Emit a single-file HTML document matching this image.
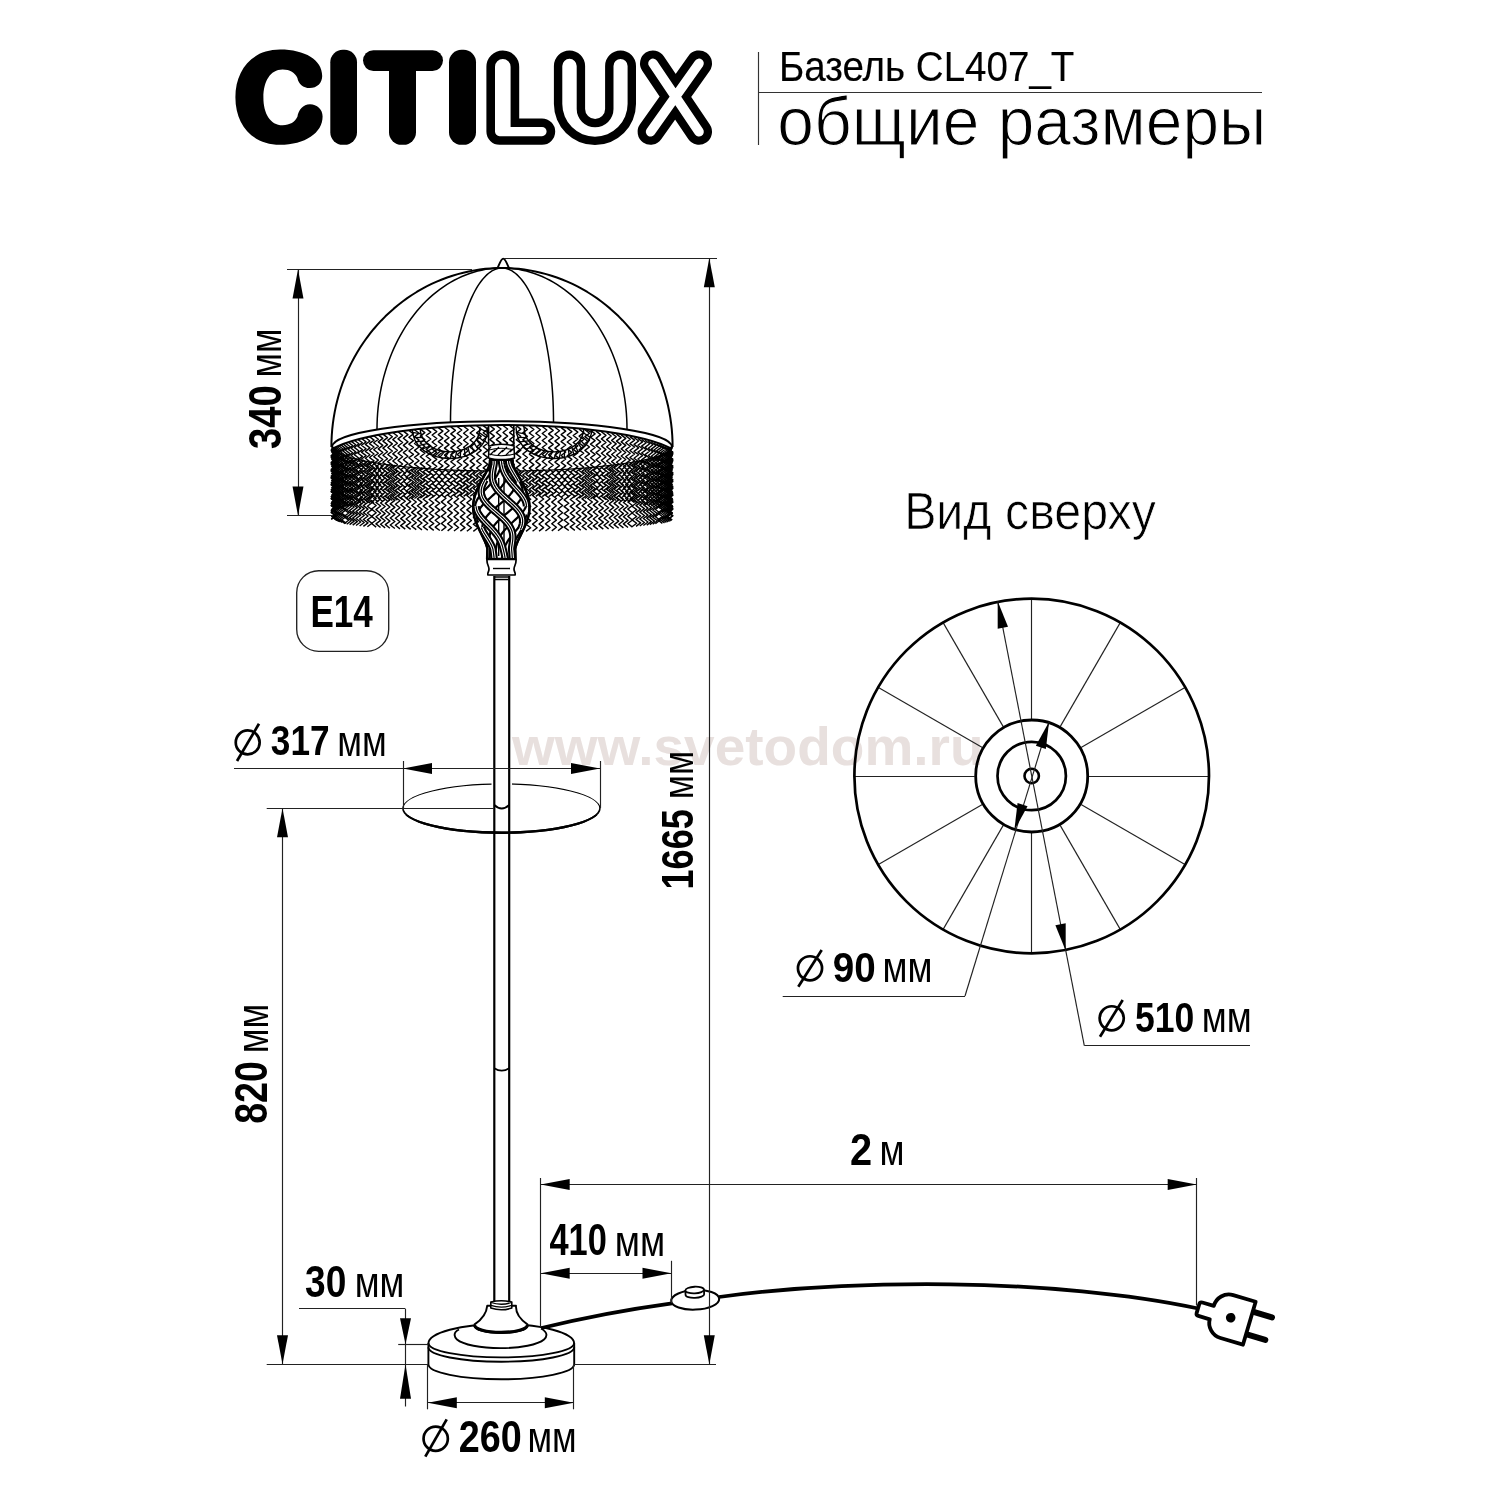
<!DOCTYPE html>
<html><head><meta charset="utf-8"><title>Citilux CL407_T</title>
<style>
html,body{margin:0;padding:0;background:#fff;}
body{width:1500px;height:1500px;overflow:hidden;}
svg{display:block;will-change:transform;}
svg text{font-family:"Liberation Sans",sans-serif;}
</style></head><body>
<svg width="1500" height="1500" viewBox="0 0 1500 1500">
<rect width="1500" height="1500" fill="#fff"/>
<text transform="translate(511.97,765.06) scale(0.5500,0.5388)" font-size="100" font-weight="bold" fill="#e8e0de" >www.svetodom.ru</text>
<g fill="#000" stroke="none">
<path d="M322.2,76 C322.2,60 305,49.6 280,49.6 C252,49.6 235.4,70 235.4,97.2 C235.4,124.5 252,144.8 280,144.8 C305,144.8 322.6,133 322.6,116.5 C322.6,109.5 317,104.3 310,104.3 C303,104.3 298.5,110 297.4,116.8 C295,122 290,125.2 282.6,125.2 C270,125.2 263.4,113 263.4,97.4 C263.4,82 270,69.6 282.6,69.6 C290,69.6 295,73 297.4,78 C298.5,84 303,88.1 309.8,88.1 C317,88.1 322.2,83 322.2,76 Z"/>
<rect x="330.3" y="49.8" width="26.7" height="95" rx="12.5"/>
<rect x="363" y="50.2" width="80" height="20.8" rx="10.4"/>
<rect x="389" y="52" width="27" height="92.8" rx="12.5"/>
<rect x="449" y="49.8" width="27" height="95" rx="12.5"/>
<path d="M486.4,66.8 A16.4,16.4 0 0 1 519.2,66.8 V118.4 H542 A13.2,13.2 0 0 1 542,144.8 H499.6 A13.2,13.2 0 0 1 486.4,131.6 Z"/>
<path fill="#fff" d="M495,66.8 A7.8,7.8 0 0 1 510.6,66.8 V127 H542 A4.6,4.6 0 0 1 542,136.2 H499.6 A4.6,4.6 0 0 1 495,131.6 Z"/>
<path d="M553.9,66 A15.6,15.6 0 0 1 585.1,66 V109 A10,10 0 0 0 605.1,109 V66 A15.45,15.45 0 0 1 636,66 V104 A41.05,41.05 0 0 1 553.9,104 Z"/>
<path fill="#fff" d="M562.3,66 A7.2,7.2 0 0 1 576.7,66 V109 A18.4,18.4 0 0 0 613.5,109 V66 A7.05,7.05 0 0 1 627.6,66 V104 A32.65,32.65 0 0 1 562.3,104 Z"/>
</g>
<g fill="none" stroke-linecap="round">
<path d="M653,63.4 L699,131.8 M699,63.4 L650.6,131.8" stroke="#000" stroke-width="26"/>
<path d="M653,63.4 L699,131.8 M699,63.4 L650.6,131.8" stroke="#fff" stroke-width="9.6"/>
</g>
<line x1="758.50" y1="52.00" x2="758.50" y2="145.00" stroke="#333" stroke-width="1.15" />
<line x1="758.60" y1="92.50" x2="1262.00" y2="92.50" stroke="#333" stroke-width="1.15" />
<text transform="translate(778.92,81.00) scale(0.3855,0.4203)" font-size="100" font-weight="normal" fill="#000" stroke="#000" stroke-width="0.35">Базель CL407_T</text>
<text transform="translate(777.36,145.00) scale(0.6589,0.6792)" font-size="100" font-weight="normal" fill="#000" stroke="#fff" stroke-width="1.7">общие размеры</text>
<text transform="translate(904.13,529.00) scale(0.4834,0.5130)" font-size="100" font-weight="normal" fill="#000" stroke="#fff" stroke-width="1.4">Вид сверху</text>
<path d="M496.6,270 C498.8,266.5 500.6,258.6 503.2,258.6 C505.8,258.6 507.8,266.5 510,270 Z" fill="#fff" stroke="#000" stroke-width="1.9" stroke-linejoin="round"/>
<polygon points="331.40,447.00 331.49,441.14 331.77,435.29 332.22,429.45 332.86,423.64 333.68,417.84 334.68,412.08 335.86,406.35 337.21,400.67 338.75,395.04 340.45,389.46 342.33,383.95 344.39,378.50 346.61,373.13 348.99,367.83 351.54,362.62 354.26,357.50 357.13,352.48 360.15,347.55 363.33,342.74 366.65,338.03 370.12,333.44 373.74,328.98 377.49,324.64 381.37,320.43 385.38,316.35 389.52,312.42 393.77,308.63 398.15,304.99 402.63,301.50 407.22,298.17 411.91,294.99 416.70,291.98 421.58,289.14 426.55,286.46 431.59,283.96 436.71,281.63 441.91,279.47 447.16,277.50 452.48,275.71 457.85,274.10 463.26,272.68 468.72,271.44 474.21,270.39 479.73,269.53 485.28,268.86 490.84,268.38 496.42,268.10 502.00,268.00 502.00,268.00 507.58,268.10 513.16,268.38 518.72,268.86 524.27,269.53 529.79,270.39 535.28,271.44 540.74,272.68 546.15,274.10 551.52,275.71 556.84,277.50 562.09,279.47 567.29,281.63 572.41,283.96 577.45,286.46 582.42,289.14 587.30,291.98 592.09,294.99 596.78,298.17 601.37,301.50 605.85,304.99 610.23,308.63 614.48,312.42 618.62,316.35 622.63,320.43 626.51,324.64 630.26,328.98 633.88,333.44 637.35,338.03 640.67,342.74 643.85,347.55 646.87,352.48 649.74,357.50 652.46,362.62 655.01,367.83 657.39,373.13 659.61,378.50 661.67,383.95 663.55,389.46 665.25,395.04 666.79,400.67 668.14,406.35 669.32,412.08 670.32,417.84 671.14,423.64 671.78,429.45 672.23,435.29 672.51,441.14 672.60,447.00" fill="#fff" stroke="none"/>
<polyline points="331.40,447.00 331.49,441.14 331.77,435.29 332.22,429.45 332.86,423.64 333.68,417.84 334.68,412.08 335.86,406.35 337.21,400.67 338.75,395.04 340.45,389.46 342.33,383.95 344.39,378.50 346.61,373.13 348.99,367.83 351.54,362.62 354.26,357.50 357.13,352.48 360.15,347.55 363.33,342.74 366.65,338.03 370.12,333.44 373.74,328.98 377.49,324.64 381.37,320.43 385.38,316.35 389.52,312.42 393.77,308.63 398.15,304.99 402.63,301.50 407.22,298.17 411.91,294.99 416.70,291.98 421.58,289.14 426.55,286.46 431.59,283.96 436.71,281.63 441.91,279.47 447.16,277.50 452.48,275.71 457.85,274.10 463.26,272.68 468.72,271.44 474.21,270.39 479.73,269.53 485.28,268.86 490.84,268.38 496.42,268.10 502.00,268.00 502.00,268.00 507.58,268.10 513.16,268.38 518.72,268.86 524.27,269.53 529.79,270.39 535.28,271.44 540.74,272.68 546.15,274.10 551.52,275.71 556.84,277.50 562.09,279.47 567.29,281.63 572.41,283.96 577.45,286.46 582.42,289.14 587.30,291.98 592.09,294.99 596.78,298.17 601.37,301.50 605.85,304.99 610.23,308.63 614.48,312.42 618.62,316.35 622.63,320.43 626.51,324.64 630.26,328.98 633.88,333.44 637.35,338.03 640.67,342.74 643.85,347.55 646.87,352.48 649.74,357.50 652.46,362.62 655.01,367.83 657.39,373.13 659.61,378.50 661.67,383.95 663.55,389.46 665.25,395.04 666.79,400.67 668.14,406.35 669.32,412.08 670.32,417.84 671.14,423.64 671.78,429.45 672.23,435.29 672.51,441.14 672.60,447.00" fill="none" stroke="#000" stroke-width="2" stroke-linejoin="round"/>
<polyline points="450.50,422.20 450.53,417.15 450.61,412.11 450.75,407.08 450.94,402.07 451.19,397.08 451.49,392.12 451.85,387.18 452.25,382.29 452.72,377.44 453.23,372.63 453.80,367.88 454.42,363.19 455.09,358.56 455.81,354.00 456.58,349.51 457.40,345.10 458.27,340.77 459.18,336.53 460.14,332.38 461.14,328.33 462.19,324.38 463.28,320.53 464.41,316.79 465.58,313.16 466.79,309.65 468.04,306.27 469.33,303.00 470.65,299.86 472.00,296.86 473.39,293.99 474.80,291.25 476.25,288.66 477.72,286.21 479.22,283.90 480.75,281.74 482.29,279.74 483.86,277.88 485.45,276.18 487.05,274.64 488.67,273.25 490.31,272.03 491.95,270.96 493.61,270.06 495.28,269.32 496.95,268.74 498.63,268.33 500.31,268.08 502.00,268.00" fill="none" stroke="#000" stroke-width="1.5"/>
<polyline points="553.50,422.20 553.47,417.15 553.39,412.11 553.25,407.08 553.06,402.07 552.81,397.08 552.51,392.12 552.15,387.18 551.75,382.29 551.28,377.44 550.77,372.63 550.20,367.88 549.58,363.19 548.91,358.56 548.19,354.00 547.42,349.51 546.60,345.10 545.73,340.77 544.82,336.53 543.86,332.38 542.86,328.33 541.81,324.38 540.72,320.53 539.59,316.79 538.42,313.16 537.21,309.65 535.96,306.27 534.67,303.00 533.35,299.86 532.00,296.86 530.61,293.99 529.20,291.25 527.75,288.66 526.28,286.21 524.78,283.90 523.25,281.74 521.71,279.74 520.14,277.88 518.55,276.18 516.95,274.64 515.33,273.25 513.69,272.03 512.05,270.96 510.39,270.06 508.72,269.32 507.05,268.74 505.37,268.33 503.69,268.08 502.00,268.00" fill="none" stroke="#000" stroke-width="1.5"/>
<polyline points="377.00,429.22 377.07,423.94 377.27,418.67 377.60,413.42 378.07,408.17 378.67,402.96 379.40,397.77 380.27,392.61 381.26,387.49 382.38,382.42 383.63,377.40 385.01,372.43 386.52,367.52 388.14,362.68 389.89,357.91 391.76,353.22 393.75,348.61 395.85,344.08 398.07,339.65 400.39,335.31 402.83,331.07 405.37,326.94 408.02,322.92 410.77,319.01 413.61,315.22 416.55,311.55 419.58,308.01 422.70,304.59 425.90,301.32 429.19,298.17 432.55,295.17 435.99,292.31 439.50,289.60 443.08,287.04 446.71,284.63 450.41,282.37 454.16,280.27 457.97,278.33 461.82,276.56 465.71,274.94 469.65,273.49 473.62,272.21 477.61,271.10 481.64,270.15 485.68,269.38 489.75,268.78 493.82,268.35 497.91,268.09 502.00,268.00" fill="none" stroke="#000" stroke-width="1.5"/>
<polyline points="627.00,429.22 626.93,423.94 626.73,418.67 626.40,413.42 625.93,408.17 625.33,402.96 624.60,397.77 623.73,392.61 622.74,387.49 621.62,382.42 620.37,377.40 618.99,372.43 617.48,367.52 615.86,362.68 614.11,357.91 612.24,353.22 610.25,348.61 608.15,344.08 605.93,339.65 603.61,335.31 601.17,331.07 598.63,326.94 595.98,322.92 593.23,319.01 590.39,315.22 587.45,311.55 584.42,308.01 581.30,304.59 578.10,301.32 574.81,298.17 571.45,295.17 568.01,292.31 564.50,289.60 560.92,287.04 557.29,284.63 553.59,282.37 549.84,280.27 546.03,278.33 542.18,276.56 538.29,274.94 534.35,273.49 530.38,272.21 526.39,271.10 522.36,270.15 518.32,269.38 514.25,268.78 510.18,268.35 506.09,268.09 502.00,268.00" fill="none" stroke="#000" stroke-width="1.5"/>
<ellipse cx="502.0" cy="446.5" rx="170" ry="25.5" fill="#fff"/>
<path d="M412,427 C412,468.9 488,468.9 488,427" fill="none" stroke="#000" stroke-width="1.4"/>
<path d="M420,427 C420,460.2 480,460.2 480,427" fill="none" stroke="#000" stroke-width="1.4"/>
<line x1="412.46" y1="432.45" x2="420.97" y2="433.96" stroke="#000" stroke-width="1.31" />
<line x1="413.77" y1="437.39" x2="422.42" y2="437.60" stroke="#000" stroke-width="1.31" />
<line x1="415.85" y1="441.80" x2="424.43" y2="440.83" stroke="#000" stroke-width="1.31" />
<line x1="418.62" y1="445.70" x2="426.94" y2="443.65" stroke="#000" stroke-width="1.31" />
<line x1="421.99" y1="449.07" x2="429.87" y2="446.06" stroke="#000" stroke-width="1.31" />
<line x1="425.88" y1="451.93" x2="433.17" y2="448.06" stroke="#000" stroke-width="1.31" />
<line x1="430.19" y1="454.27" x2="436.76" y2="449.64" stroke="#000" stroke-width="1.31" />
<line x1="434.84" y1="456.08" x2="440.57" y2="450.81" stroke="#000" stroke-width="1.31" />
<line x1="439.75" y1="457.38" x2="444.55" y2="451.57" stroke="#000" stroke-width="1.31" />
<line x1="444.83" y1="458.16" x2="448.61" y2="451.91" stroke="#000" stroke-width="1.31" />
<line x1="450.00" y1="458.42" x2="452.70" y2="451.85" stroke="#000" stroke-width="1.31" />
<line x1="455.17" y1="458.16" x2="456.74" y2="451.37" stroke="#000" stroke-width="1.31" />
<line x1="460.25" y1="457.38" x2="460.67" y2="450.48" stroke="#000" stroke-width="1.31" />
<line x1="465.16" y1="456.08" x2="464.42" y2="449.18" stroke="#000" stroke-width="1.31" />
<line x1="469.81" y1="454.27" x2="467.92" y2="447.46" stroke="#000" stroke-width="1.31" />
<line x1="474.12" y1="451.93" x2="471.11" y2="445.34" stroke="#000" stroke-width="1.31" />
<line x1="478.01" y1="449.07" x2="473.92" y2="442.80" stroke="#000" stroke-width="1.31" />
<line x1="481.38" y1="445.70" x2="476.27" y2="439.84" stroke="#000" stroke-width="1.31" />
<line x1="484.15" y1="441.80" x2="478.11" y2="436.48" stroke="#000" stroke-width="1.31" />
<line x1="486.23" y1="437.39" x2="479.36" y2="432.71" stroke="#000" stroke-width="1.31" />
<line x1="487.54" y1="432.45" x2="479.96" y2="428.52" stroke="#000" stroke-width="1.31" />
<path d="M516,427 C516,468.9 592,468.9 592,427" fill="none" stroke="#000" stroke-width="1.4"/>
<path d="M524,427 C524,460.2 584,460.2 584,427" fill="none" stroke="#000" stroke-width="1.4"/>
<line x1="516.46" y1="432.45" x2="524.97" y2="433.96" stroke="#000" stroke-width="1.31" />
<line x1="517.77" y1="437.39" x2="526.42" y2="437.60" stroke="#000" stroke-width="1.31" />
<line x1="519.85" y1="441.80" x2="528.43" y2="440.83" stroke="#000" stroke-width="1.31" />
<line x1="522.62" y1="445.70" x2="530.94" y2="443.65" stroke="#000" stroke-width="1.31" />
<line x1="525.99" y1="449.07" x2="533.87" y2="446.06" stroke="#000" stroke-width="1.31" />
<line x1="529.88" y1="451.93" x2="537.17" y2="448.06" stroke="#000" stroke-width="1.31" />
<line x1="534.19" y1="454.27" x2="540.76" y2="449.64" stroke="#000" stroke-width="1.31" />
<line x1="538.84" y1="456.08" x2="544.57" y2="450.81" stroke="#000" stroke-width="1.31" />
<line x1="543.75" y1="457.38" x2="548.55" y2="451.57" stroke="#000" stroke-width="1.31" />
<line x1="548.83" y1="458.16" x2="552.61" y2="451.91" stroke="#000" stroke-width="1.31" />
<line x1="554.00" y1="458.42" x2="556.70" y2="451.85" stroke="#000" stroke-width="1.31" />
<line x1="559.17" y1="458.16" x2="560.74" y2="451.37" stroke="#000" stroke-width="1.31" />
<line x1="564.25" y1="457.38" x2="564.67" y2="450.48" stroke="#000" stroke-width="1.31" />
<line x1="569.16" y1="456.08" x2="568.42" y2="449.18" stroke="#000" stroke-width="1.31" />
<line x1="573.81" y1="454.27" x2="571.92" y2="447.46" stroke="#000" stroke-width="1.31" />
<line x1="578.12" y1="451.93" x2="575.11" y2="445.34" stroke="#000" stroke-width="1.31" />
<line x1="582.01" y1="449.07" x2="577.92" y2="442.80" stroke="#000" stroke-width="1.31" />
<line x1="585.38" y1="445.70" x2="580.27" y2="439.84" stroke="#000" stroke-width="1.31" />
<line x1="588.15" y1="441.80" x2="582.11" y2="436.48" stroke="#000" stroke-width="1.31" />
<line x1="590.23" y1="437.39" x2="583.36" y2="432.71" stroke="#000" stroke-width="1.31" />
<line x1="591.54" y1="432.45" x2="583.96" y2="428.52" stroke="#000" stroke-width="1.31" />
<line x1="488.60" y1="424.00" x2="488.60" y2="446.00" stroke="#000" stroke-width="1.6" />
<line x1="513.80" y1="424.00" x2="513.80" y2="446.00" stroke="#000" stroke-width="1.6" />
<g fill="none" stroke="#000" stroke-width="1.4" stroke-linejoin="round">
<polyline points="331.23,448.76 335.83,452.17 331.23,455.59 335.83,459.00 331.23,462.42 335.83,465.83 331.23,469.25 335.83,472.66 331.23,476.08 335.83,479.49 331.23,482.91 335.83,486.32 331.23,489.74 335.83,493.16 331.23,496.57 335.83,499.99 331.23,503.40 335.83,506.82 331.23,510.23 335.83,513.65"/>
<polyline points="331.49,448.62 336.09,452.19 331.49,455.77 336.09,459.34 331.49,462.91 336.09,466.49 331.49,470.06 336.09,473.63 331.49,477.21 336.09,480.78 331.49,484.35 336.09,487.93 331.49,491.50 336.09,495.07 331.49,498.65 336.09,502.22 331.49,505.79 336.09,509.37 331.49,512.94"/>
<polyline points="332.01,448.35 336.61,451.90 332.01,455.45 336.61,459.00 332.01,462.55 336.61,466.10 332.01,469.65 336.61,473.20 332.01,476.74 336.61,480.29 332.01,483.84 336.61,487.39 332.01,490.94 336.61,494.49 332.01,498.04 336.61,501.59 332.01,505.14 336.61,508.69 332.01,512.24"/>
<polyline points="332.79,447.96 337.39,451.49 332.79,455.02 337.39,458.56 332.79,462.09 337.39,465.62 332.79,469.15 337.39,472.68 332.79,476.22 337.39,479.75 332.79,483.28 337.39,486.81 332.79,490.34 337.39,493.87 332.79,497.41 337.39,500.94 332.79,504.47 337.39,508.00 332.79,511.53"/>
<polyline points="333.82,447.46 338.42,450.98 333.82,454.50 338.42,458.02 333.82,461.54 338.42,465.06 333.82,468.59 338.42,472.11 333.82,475.63 338.42,479.15 333.82,482.67 338.42,486.19 333.82,489.71 338.42,493.23 333.82,496.75 338.42,500.27 333.82,503.79 338.42,507.31 333.82,510.84"/>
<polyline points="335.11,446.86 339.71,450.38 335.11,453.90 339.71,457.41 335.11,460.93 339.71,464.44 335.11,467.96 339.71,471.47 335.11,474.99 339.71,478.50 335.11,482.02 339.71,485.53 335.11,489.05 339.71,492.57 335.11,496.08 339.71,499.60 335.11,503.11 339.71,506.63 335.11,510.14"/>
<polyline points="336.66,446.19 341.26,449.70 336.66,453.22 341.26,456.73 336.66,460.25 341.26,463.76 336.66,467.28 341.26,470.79 336.66,474.31 341.26,477.82 336.66,481.34 341.26,484.85 336.66,488.37 341.26,491.88 336.66,495.40 341.26,498.91 336.66,502.43 341.26,505.94 336.66,509.46"/>
<polyline points="338.46,445.44 343.06,448.96 338.46,452.48 343.06,456.00 338.46,459.52 343.06,463.04 338.46,466.55 343.06,470.07 338.46,473.59 343.06,477.11 338.46,480.63 343.06,484.15 338.46,487.66 343.06,491.18 338.46,494.70 343.06,498.22 338.46,501.74 343.06,505.26 338.46,508.77"/>
<polyline points="340.50,444.65 345.10,448.17 340.50,451.70 345.10,455.22 340.50,458.75 345.10,462.27 340.50,465.80 345.10,469.32 340.50,472.85 345.10,476.38 340.50,479.90 345.10,483.43 340.50,486.95 345.10,490.48 340.50,494.00 345.10,497.53 340.50,501.05 345.10,504.58 340.50,508.10"/>
<polyline points="342.79,443.81 347.39,447.34 342.79,450.88 347.39,454.41 342.79,457.95 347.39,461.48 342.79,465.02 347.39,468.55 342.79,472.09 347.39,475.62 342.79,479.16 347.39,482.69 342.79,486.23 347.39,489.76 342.79,493.30 347.39,496.83 342.79,500.37 347.39,503.90 342.79,507.44"/>
<polyline points="345.32,442.94 349.92,446.49 345.32,450.03 349.92,453.58 345.32,457.13 349.92,460.67 345.32,464.22 349.92,467.77 345.32,471.32 349.92,474.86 345.32,478.41 349.92,481.96 345.32,485.50 349.92,489.05 345.32,492.60 349.92,496.15 345.32,499.69 349.92,503.24 345.32,506.79"/>
<polyline points="348.09,442.05 352.69,445.61 348.09,449.17 352.69,452.73 348.09,456.29 352.69,459.85 348.09,463.41 352.69,466.97 348.09,470.54 352.69,474.10 348.09,477.66 352.69,481.22 348.09,484.78 352.69,488.34 348.09,491.90 352.69,495.46 348.09,499.02 352.69,502.58 348.09,506.14"/>
<polyline points="351.10,441.14 355.70,444.72 351.10,448.29 355.70,451.87 351.10,455.45 355.70,459.02 351.10,462.60 355.70,466.18 351.10,469.75 355.70,473.33 351.10,476.90 355.70,480.48 351.10,484.06 355.70,487.63 351.10,491.21 355.70,494.79 351.10,498.36 355.70,501.94 351.10,505.51"/>
<polyline points="354.33,440.23 358.93,443.82 354.33,447.41 358.93,451.01 354.33,454.60 358.93,458.19 354.33,461.79 358.93,465.38 354.33,468.97 358.93,472.56 354.33,476.16 358.93,479.75 354.33,483.34 358.93,486.93 354.33,490.53 358.93,494.12 354.33,497.71 358.93,501.31 354.33,504.90"/>
<polyline points="357.79,439.32 362.39,442.74 357.79,446.16 362.39,449.58 357.79,453.00 362.39,456.42 357.79,459.84 362.39,463.26 357.79,466.68 362.39,470.10 357.79,473.52 362.39,476.94 357.79,480.36 362.39,483.78 357.79,487.20 362.39,490.62 357.79,494.04 362.39,497.46 357.79,500.88 362.39,504.30"/>
<polyline points="361.46,438.41 366.06,441.84 361.46,445.28 366.06,448.72 361.46,452.15 366.06,455.59 361.46,459.03 366.06,462.47 361.46,465.90 366.06,469.34 361.46,472.78 366.06,476.21 361.46,479.65 366.06,483.09 361.46,486.52 366.06,489.96 361.46,493.40 366.06,496.83 361.46,500.27 366.06,503.71"/>
<polyline points="365.35,437.51 369.95,440.96 365.35,444.42 369.95,447.87 365.35,451.32 369.95,454.78 365.35,458.23 369.95,461.69 365.35,465.14 369.95,468.59 365.35,472.05 369.95,475.50 365.35,478.96 369.95,482.41 365.35,485.87 369.95,489.32 365.35,492.77 369.95,496.23 365.35,499.68 369.95,503.14"/>
<polyline points="369.45,436.62 374.05,440.09 369.45,443.57 374.05,447.04 369.45,450.51 374.05,453.98 369.45,457.45 374.05,460.92 369.45,464.39 374.05,467.87 369.45,471.34 374.05,474.81 369.45,478.28 374.05,481.75 369.45,485.22 374.05,488.69 369.45,492.17 374.05,495.64 369.45,499.11 374.05,502.58"/>
<polyline points="373.74,435.75 378.34,439.24 373.74,442.73 378.34,446.22 373.74,449.71 378.34,453.20 373.74,456.69 378.34,460.18 373.74,463.67 378.34,467.15 373.74,470.64 378.34,474.13 373.74,477.62 378.34,481.11 373.74,484.60 378.34,488.09 373.74,491.58 378.34,495.07 373.74,498.55 378.34,502.04"/>
<polyline points="378.24,434.91 382.84,438.41 378.24,441.92 382.84,445.42 378.24,448.93 382.84,452.44 378.24,455.94 382.84,459.45 378.24,462.96 382.84,466.46 378.24,469.97 382.84,473.47 378.24,476.98 382.84,480.49 378.24,483.99 382.84,487.50 378.24,491.01 382.84,494.51 378.24,498.02 382.84,501.52"/>
<polyline points="382.91,434.08 387.51,437.61 382.91,441.13 387.51,444.65 382.91,448.18 387.51,451.70 382.91,455.22 387.51,458.74 382.91,462.27 387.51,465.79 382.91,469.31 387.51,472.84 382.91,476.36 387.51,479.88 382.91,483.41 387.51,486.93 382.91,490.45 387.51,493.98 382.91,497.50 387.51,501.02"/>
<polyline points="387.77,433.28 392.37,436.82 387.77,440.36 392.37,443.90 387.77,447.44 392.37,450.98 387.77,454.52 392.37,458.06 387.77,461.60 392.37,465.14 387.77,468.68 392.37,472.22 387.77,475.76 392.37,479.30 387.77,482.84 392.37,486.38 387.77,489.92 392.37,493.46 387.77,497.00 392.37,500.54"/>
<polyline points="392.80,432.52 397.40,436.07 392.80,439.63 397.40,443.18 392.80,446.74 397.40,450.30 392.80,453.85 397.40,457.41 392.80,460.97 397.40,464.52 392.80,468.08 397.40,471.64 392.80,475.19 397.40,478.75 392.80,482.30 397.40,485.86 392.80,489.42 397.40,492.97 392.80,496.53 397.40,500.09"/>
<polyline points="398.00,431.78 402.60,435.35 398.00,438.92 402.60,442.50 398.00,446.07 402.60,449.64 398.00,453.21 402.60,456.78 398.00,460.36 402.60,463.93 398.00,467.50 402.60,471.07 398.00,474.64 402.60,478.22 398.00,481.79 402.60,485.36 398.00,488.93 402.60,492.50 398.00,496.08 402.60,499.65"/>
<polyline points="403.35,431.08 407.95,434.66 403.35,438.25 407.95,441.84 403.35,445.42 407.95,449.01 403.35,452.60 407.95,456.19 403.35,459.77 407.95,463.36 403.35,466.95 407.95,470.54 403.35,474.12 407.95,477.71 403.35,481.30 407.95,484.88 403.35,488.47 407.95,492.06 403.35,495.65 407.95,499.23"/>
<polyline points="408.86,430.41 413.46,433.83 408.86,437.25 413.46,440.67 408.86,444.09 413.46,447.52 408.86,450.94 413.46,454.36 408.86,457.78 413.46,461.20 408.86,464.62 413.46,468.05 408.86,471.47 413.46,474.89 408.86,478.31 413.46,481.73 408.86,485.15 413.46,488.58 408.86,492.00 413.46,495.42 408.86,498.84"/>
<polyline points="414.50,429.78 419.10,433.21 414.50,436.65 419.10,440.08 414.50,443.52 419.10,446.95 414.50,450.38 419.10,453.82 414.50,457.25 419.10,460.69 414.50,464.12 419.10,467.56 414.50,470.99 419.10,474.43 414.50,477.86 419.10,481.30 414.50,484.73 419.10,488.17 414.50,491.60 419.10,495.04 414.50,498.47"/>
<polyline points="420.27,429.18 424.87,432.63 420.27,436.08 424.87,439.53 420.27,442.97 424.87,446.42 420.27,449.87 424.87,453.31 420.27,456.76 424.87,460.21 420.27,463.65 424.87,467.10 420.27,470.55 424.87,474.00 420.27,477.44 424.87,480.89 420.27,484.34 424.87,487.78 420.27,491.23 424.87,494.68 420.27,498.13"/>
<polyline points="426.17,428.63 430.77,432.09 426.17,435.55 430.77,439.01 426.17,442.47 430.77,445.93 426.17,449.38 430.77,452.84 426.17,456.30 430.77,459.76 426.17,463.22 430.77,466.68 426.17,470.14 430.77,473.59 426.17,477.05 430.77,480.51 426.17,483.97 430.77,487.43 426.17,490.89 430.77,494.35 426.17,497.80"/>
<polyline points="432.17,428.12 436.77,431.59 432.17,435.06 436.77,438.53 432.17,442.00 436.77,445.47 432.17,448.94 436.77,452.41 432.17,455.88 436.77,459.35 432.17,462.82 436.77,466.28 432.17,469.75 436.77,473.22 432.17,476.69 436.77,480.16 432.17,483.63 436.77,487.10 432.17,490.57 436.77,494.04 432.17,497.51"/>
<polyline points="438.29,427.65 442.89,431.13 438.29,434.61 442.89,438.09 438.29,441.57 442.89,445.05 438.29,448.53 442.89,452.01 438.29,455.49 442.89,458.97 438.29,462.45 442.89,465.93 438.29,469.40 442.89,472.88 438.29,476.36 442.89,479.84 438.29,483.32 442.89,486.80 438.29,490.28 442.89,493.76 438.29,497.24"/>
<polyline points="444.49,427.23 449.09,430.72 444.49,434.21 449.09,437.69 444.49,441.18 449.09,444.67 444.49,448.16 449.09,451.65 444.49,455.14 449.09,458.62 444.49,462.11 449.09,465.60 444.49,469.09 449.09,472.58 444.49,476.06 449.09,479.55 444.49,483.04 449.09,486.53 444.49,490.02 449.09,493.51 444.49,496.99"/>
<polyline points="450.79,426.85 455.39,430.35 450.79,433.84 455.39,437.34 450.79,440.84 455.39,444.33 450.79,447.83 455.39,451.32 450.79,454.82 455.39,458.32 450.79,461.81 455.39,465.31 450.79,468.81 455.39,472.30 450.79,475.80 455.39,479.29 450.79,482.79 455.39,486.29 450.79,489.78 455.39,493.28 450.79,496.78"/>
<polyline points="457.16,426.52 461.76,430.02 457.16,433.52 461.76,437.03 457.16,440.53 461.76,444.03 457.16,447.54 461.76,451.04 457.16,454.54 461.76,458.05 457.16,461.55 461.76,465.05 457.16,468.56 461.76,472.06 457.16,475.56 461.76,479.07 457.16,482.57 461.76,486.07 457.16,489.58 461.76,493.08 457.16,496.58"/>
<polyline points="463.59,426.23 468.19,429.74 463.59,433.25 468.19,436.76 463.59,440.27 468.19,443.78 463.59,447.29 468.19,450.80 463.59,454.31 468.19,457.81 463.59,461.32 468.19,464.83 463.59,468.34 468.19,471.85 463.59,475.36 468.19,478.87 463.59,482.38 468.19,485.89 463.59,489.40 468.19,492.91 463.59,496.42"/>
<polyline points="470.08,425.99 474.68,429.50 470.08,433.02 474.68,436.53 470.08,440.05 474.68,443.56 470.08,447.08 474.68,450.59 470.08,454.11 474.68,457.62 470.08,461.13 474.68,464.65 470.08,468.16 474.68,471.68 470.08,475.19 474.68,478.71 470.08,482.22 474.68,485.74 470.08,489.25 474.68,492.77 470.08,496.28"/>
<polyline points="476.61,425.80 481.21,429.32 476.61,432.83 481.21,436.35 476.61,439.87 481.21,443.39 476.61,446.91 481.21,450.43 476.61,453.95 481.21,457.46 476.61,460.98 481.21,464.50 476.61,468.02 481.21,471.54 476.61,475.06 481.21,478.58 476.61,482.10 481.21,485.61 476.61,489.13 481.21,492.65 476.61,496.17"/>
<polyline points="483.18,425.65 487.78,429.17 483.18,432.69 487.78,436.22 483.18,439.74 487.78,443.26 483.18,446.78 487.78,450.30 483.18,453.83 487.78,457.35 483.18,460.87 487.78,464.39 483.18,467.91 487.78,471.43 483.18,474.96 487.78,478.48 483.18,482.00 487.78,485.52 483.18,489.04 487.78,492.56 483.18,496.09"/>
<polyline points="489.78,425.55 494.38,429.08 489.78,432.60 494.38,436.13 489.78,439.65 494.38,443.17 489.78,446.70 494.38,450.22 489.78,453.75 494.38,457.27 489.78,460.79 494.38,464.32 489.78,467.84 494.38,471.36 489.78,474.89 494.38,478.41 489.78,481.94 494.38,485.46 489.78,488.98 494.38,492.51 489.78,496.03"/>
<polyline points="496.39,425.51 500.99,429.03 496.39,432.56 500.99,436.08 496.39,439.61 500.99,443.13 496.39,446.66 500.99,450.18 496.39,453.71 500.99,457.23 496.39,460.75 500.99,464.28 496.39,467.80 500.99,471.33 496.39,474.85 500.99,478.38 496.39,481.90 500.99,485.43 496.39,488.95 500.99,492.48 496.39,496.00"/>
<polyline points="503.01,425.51 507.61,429.03 503.01,432.56 507.61,436.08 503.01,439.61 507.61,443.13 503.01,446.66 507.61,450.18 503.01,453.71 507.61,457.23 503.01,460.75 507.61,464.28 503.01,467.80 507.61,471.33 503.01,474.85 507.61,478.38 503.01,481.90 507.61,485.43 503.01,488.95 507.61,492.48 503.01,496.00"/>
<polyline points="509.62,425.55 514.22,429.08 509.62,432.60 514.22,436.13 509.62,439.65 514.22,443.17 509.62,446.70 514.22,450.22 509.62,453.75 514.22,457.27 509.62,460.79 514.22,464.32 509.62,467.84 514.22,471.36 509.62,474.89 514.22,478.41 509.62,481.94 514.22,485.46 509.62,488.98 514.22,492.51 509.62,496.03"/>
<polyline points="516.22,425.65 520.82,429.17 516.22,432.69 520.82,436.22 516.22,439.74 520.82,443.26 516.22,446.78 520.82,450.30 516.22,453.83 520.82,457.35 516.22,460.87 520.82,464.39 516.22,467.91 520.82,471.43 516.22,474.96 520.82,478.48 516.22,482.00 520.82,485.52 516.22,489.04 520.82,492.56 516.22,496.09"/>
<polyline points="522.79,425.80 527.39,429.32 522.79,432.83 527.39,436.35 522.79,439.87 527.39,443.39 522.79,446.91 527.39,450.43 522.79,453.95 527.39,457.46 522.79,460.98 527.39,464.50 522.79,468.02 527.39,471.54 522.79,475.06 527.39,478.58 522.79,482.10 527.39,485.61 522.79,489.13 527.39,492.65 522.79,496.17"/>
<polyline points="529.32,425.99 533.92,429.50 529.32,433.02 533.92,436.53 529.32,440.05 533.92,443.56 529.32,447.08 533.92,450.59 529.32,454.11 533.92,457.62 529.32,461.13 533.92,464.65 529.32,468.16 533.92,471.68 529.32,475.19 533.92,478.71 529.32,482.22 533.92,485.74 529.32,489.25 533.92,492.77 529.32,496.28"/>
<polyline points="535.81,426.23 540.41,429.74 535.81,433.25 540.41,436.76 535.81,440.27 540.41,443.78 535.81,447.29 540.41,450.80 535.81,454.31 540.41,457.81 535.81,461.32 540.41,464.83 535.81,468.34 540.41,471.85 535.81,475.36 540.41,478.87 535.81,482.38 540.41,485.89 535.81,489.40 540.41,492.91 535.81,496.42"/>
<polyline points="542.24,426.52 546.84,430.02 542.24,433.52 546.84,437.03 542.24,440.53 546.84,444.03 542.24,447.54 546.84,451.04 542.24,454.54 546.84,458.05 542.24,461.55 546.84,465.05 542.24,468.56 546.84,472.06 542.24,475.56 546.84,479.07 542.24,482.57 546.84,486.07 542.24,489.58 546.84,493.08 542.24,496.58"/>
<polyline points="548.61,426.85 553.21,430.35 548.61,433.84 553.21,437.34 548.61,440.84 553.21,444.33 548.61,447.83 553.21,451.32 548.61,454.82 553.21,458.32 548.61,461.81 553.21,465.31 548.61,468.81 553.21,472.30 548.61,475.80 553.21,479.29 548.61,482.79 553.21,486.29 548.61,489.78 553.21,493.28 548.61,496.78"/>
<polyline points="554.91,427.23 559.51,430.72 554.91,434.21 559.51,437.69 554.91,441.18 559.51,444.67 554.91,448.16 559.51,451.65 554.91,455.14 559.51,458.62 554.91,462.11 559.51,465.60 554.91,469.09 559.51,472.58 554.91,476.06 559.51,479.55 554.91,483.04 559.51,486.53 554.91,490.02 559.51,493.51 554.91,496.99"/>
<polyline points="561.11,427.65 565.71,431.13 561.11,434.61 565.71,438.09 561.11,441.57 565.71,445.05 561.11,448.53 565.71,452.01 561.11,455.49 565.71,458.97 561.11,462.45 565.71,465.93 561.11,469.40 565.71,472.88 561.11,476.36 565.71,479.84 561.11,483.32 565.71,486.80 561.11,490.28 565.71,493.76 561.11,497.24"/>
<polyline points="567.23,428.12 571.83,431.59 567.23,435.06 571.83,438.53 567.23,442.00 571.83,445.47 567.23,448.94 571.83,452.41 567.23,455.88 571.83,459.35 567.23,462.82 571.83,466.28 567.23,469.75 571.83,473.22 567.23,476.69 571.83,480.16 567.23,483.63 571.83,487.10 567.23,490.57 571.83,494.04 567.23,497.51"/>
<polyline points="573.23,428.63 577.83,432.09 573.23,435.55 577.83,439.01 573.23,442.47 577.83,445.93 573.23,449.38 577.83,452.84 573.23,456.30 577.83,459.76 573.23,463.22 577.83,466.68 573.23,470.14 577.83,473.59 573.23,477.05 577.83,480.51 573.23,483.97 577.83,487.43 573.23,490.89 577.83,494.35 573.23,497.80"/>
<polyline points="579.13,429.18 583.73,432.63 579.13,436.08 583.73,439.53 579.13,442.97 583.73,446.42 579.13,449.87 583.73,453.31 579.13,456.76 583.73,460.21 579.13,463.65 583.73,467.10 579.13,470.55 583.73,474.00 579.13,477.44 583.73,480.89 579.13,484.34 583.73,487.78 579.13,491.23 583.73,494.68 579.13,498.13"/>
<polyline points="584.90,429.78 589.50,433.21 584.90,436.65 589.50,440.08 584.90,443.52 589.50,446.95 584.90,450.38 589.50,453.82 584.90,457.25 589.50,460.69 584.90,464.12 589.50,467.56 584.90,470.99 589.50,474.43 584.90,477.86 589.50,481.30 584.90,484.73 589.50,488.17 584.90,491.60 589.50,495.04 584.90,498.47"/>
<polyline points="590.54,430.41 595.14,433.83 590.54,437.25 595.14,440.67 590.54,444.09 595.14,447.52 590.54,450.94 595.14,454.36 590.54,457.78 595.14,461.20 590.54,464.62 595.14,468.05 590.54,471.47 595.14,474.89 590.54,478.31 595.14,481.73 590.54,485.15 595.14,488.58 590.54,492.00 595.14,495.42 590.54,498.84"/>
<polyline points="596.05,431.08 600.65,434.66 596.05,438.25 600.65,441.84 596.05,445.42 600.65,449.01 596.05,452.60 600.65,456.19 596.05,459.77 600.65,463.36 596.05,466.95 600.65,470.54 596.05,474.12 600.65,477.71 596.05,481.30 600.65,484.88 596.05,488.47 600.65,492.06 596.05,495.65 600.65,499.23"/>
<polyline points="601.40,431.78 606.00,435.35 601.40,438.92 606.00,442.50 601.40,446.07 606.00,449.64 601.40,453.21 606.00,456.78 601.40,460.36 606.00,463.93 601.40,467.50 606.00,471.07 601.40,474.64 606.00,478.22 601.40,481.79 606.00,485.36 601.40,488.93 606.00,492.50 601.40,496.08 606.00,499.65"/>
<polyline points="606.60,432.52 611.20,436.07 606.60,439.63 611.20,443.18 606.60,446.74 611.20,450.30 606.60,453.85 611.20,457.41 606.60,460.97 611.20,464.52 606.60,468.08 611.20,471.64 606.60,475.19 611.20,478.75 606.60,482.30 611.20,485.86 606.60,489.42 611.20,492.97 606.60,496.53 611.20,500.09"/>
<polyline points="611.63,433.28 616.23,436.82 611.63,440.36 616.23,443.90 611.63,447.44 616.23,450.98 611.63,454.52 616.23,458.06 611.63,461.60 616.23,465.14 611.63,468.68 616.23,472.22 611.63,475.76 616.23,479.30 611.63,482.84 616.23,486.38 611.63,489.92 616.23,493.46 611.63,497.00 616.23,500.54"/>
<polyline points="616.49,434.08 621.09,437.61 616.49,441.13 621.09,444.65 616.49,448.18 621.09,451.70 616.49,455.22 621.09,458.74 616.49,462.27 621.09,465.79 616.49,469.31 621.09,472.84 616.49,476.36 621.09,479.88 616.49,483.41 621.09,486.93 616.49,490.45 621.09,493.98 616.49,497.50 621.09,501.02"/>
<polyline points="621.16,434.91 625.76,438.41 621.16,441.92 625.76,445.42 621.16,448.93 625.76,452.44 621.16,455.94 625.76,459.45 621.16,462.96 625.76,466.46 621.16,469.97 625.76,473.47 621.16,476.98 625.76,480.49 621.16,483.99 625.76,487.50 621.16,491.01 625.76,494.51 621.16,498.02 625.76,501.52"/>
<polyline points="625.66,435.75 630.26,439.24 625.66,442.73 630.26,446.22 625.66,449.71 630.26,453.20 625.66,456.69 630.26,460.18 625.66,463.67 630.26,467.15 625.66,470.64 630.26,474.13 625.66,477.62 630.26,481.11 625.66,484.60 630.26,488.09 625.66,491.58 630.26,495.07 625.66,498.55 630.26,502.04"/>
<polyline points="629.95,436.62 634.55,440.09 629.95,443.57 634.55,447.04 629.95,450.51 634.55,453.98 629.95,457.45 634.55,460.92 629.95,464.39 634.55,467.87 629.95,471.34 634.55,474.81 629.95,478.28 634.55,481.75 629.95,485.22 634.55,488.69 629.95,492.17 634.55,495.64 629.95,499.11 634.55,502.58"/>
<polyline points="634.05,437.51 638.65,440.96 634.05,444.42 638.65,447.87 634.05,451.32 638.65,454.78 634.05,458.23 638.65,461.69 634.05,465.14 638.65,468.59 634.05,472.05 638.65,475.50 634.05,478.96 638.65,482.41 634.05,485.87 638.65,489.32 634.05,492.77 638.65,496.23 634.05,499.68 638.65,503.14"/>
<polyline points="637.94,438.41 642.54,441.84 637.94,445.28 642.54,448.72 637.94,452.15 642.54,455.59 637.94,459.03 642.54,462.47 637.94,465.90 642.54,469.34 637.94,472.78 642.54,476.21 637.94,479.65 642.54,483.09 637.94,486.52 642.54,489.96 637.94,493.40 642.54,496.83 637.94,500.27 642.54,503.71"/>
<polyline points="641.61,439.32 646.21,442.74 641.61,446.16 646.21,449.58 641.61,453.00 646.21,456.42 641.61,459.84 646.21,463.26 641.61,466.68 646.21,470.10 641.61,473.52 646.21,476.94 641.61,480.36 646.21,483.78 641.61,487.20 646.21,490.62 641.61,494.04 646.21,497.46 641.61,500.88 646.21,504.30"/>
<polyline points="645.07,440.23 649.67,443.82 645.07,447.41 649.67,451.01 645.07,454.60 649.67,458.19 645.07,461.79 649.67,465.38 645.07,468.97 649.67,472.56 645.07,476.16 649.67,479.75 645.07,483.34 649.67,486.93 645.07,490.53 649.67,494.12 645.07,497.71 649.67,501.31 645.07,504.90"/>
<polyline points="648.30,441.14 652.90,444.72 648.30,448.29 652.90,451.87 648.30,455.45 652.90,459.02 648.30,462.60 652.90,466.18 648.30,469.75 652.90,473.33 648.30,476.90 652.90,480.48 648.30,484.06 652.90,487.63 648.30,491.21 652.90,494.79 648.30,498.36 652.90,501.94 648.30,505.51"/>
<polyline points="651.31,442.05 655.91,445.61 651.31,449.17 655.91,452.73 651.31,456.29 655.91,459.85 651.31,463.41 655.91,466.97 651.31,470.54 655.91,474.10 651.31,477.66 655.91,481.22 651.31,484.78 655.91,488.34 651.31,491.90 655.91,495.46 651.31,499.02 655.91,502.58 651.31,506.14"/>
<polyline points="654.08,442.94 658.68,446.49 654.08,450.03 658.68,453.58 654.08,457.13 658.68,460.67 654.08,464.22 658.68,467.77 654.08,471.32 658.68,474.86 654.08,478.41 658.68,481.96 654.08,485.50 658.68,489.05 654.08,492.60 658.68,496.15 654.08,499.69 658.68,503.24 654.08,506.79"/>
<polyline points="656.61,443.81 661.21,447.34 656.61,450.88 661.21,454.41 656.61,457.95 661.21,461.48 656.61,465.02 661.21,468.55 656.61,472.09 661.21,475.62 656.61,479.16 661.21,482.69 656.61,486.23 661.21,489.76 656.61,493.30 661.21,496.83 656.61,500.37 661.21,503.90 656.61,507.44"/>
<polyline points="658.90,444.65 663.50,448.17 658.90,451.70 663.50,455.22 658.90,458.75 663.50,462.27 658.90,465.80 663.50,469.32 658.90,472.85 663.50,476.38 658.90,479.90 663.50,483.43 658.90,486.95 663.50,490.48 658.90,494.00 663.50,497.53 658.90,501.05 663.50,504.58 658.90,508.10"/>
<polyline points="660.94,445.44 665.54,448.96 660.94,452.48 665.54,456.00 660.94,459.52 665.54,463.04 660.94,466.55 665.54,470.07 660.94,473.59 665.54,477.11 660.94,480.63 665.54,484.15 660.94,487.66 665.54,491.18 660.94,494.70 665.54,498.22 660.94,501.74 665.54,505.26 660.94,508.77"/>
<polyline points="662.74,446.19 667.34,449.70 662.74,453.22 667.34,456.73 662.74,460.25 667.34,463.76 662.74,467.28 667.34,470.79 662.74,474.31 667.34,477.82 662.74,481.34 667.34,484.85 662.74,488.37 667.34,491.88 662.74,495.40 667.34,498.91 662.74,502.43 667.34,505.94 662.74,509.46"/>
<polyline points="664.29,446.86 668.89,450.38 664.29,453.90 668.89,457.41 664.29,460.93 668.89,464.44 664.29,467.96 668.89,471.47 664.29,474.99 668.89,478.50 664.29,482.02 668.89,485.53 664.29,489.05 668.89,492.57 664.29,496.08 668.89,499.60 664.29,503.11 668.89,506.63 664.29,510.14"/>
<polyline points="665.58,447.46 670.18,450.98 665.58,454.50 670.18,458.02 665.58,461.54 670.18,465.06 665.58,468.59 670.18,472.11 665.58,475.63 670.18,479.15 665.58,482.67 670.18,486.19 665.58,489.71 670.18,493.23 665.58,496.75 670.18,500.27 665.58,503.79 670.18,507.31 665.58,510.84"/>
<polyline points="666.61,447.96 671.21,451.49 666.61,455.02 671.21,458.56 666.61,462.09 671.21,465.62 666.61,469.15 671.21,472.68 666.61,476.22 671.21,479.75 666.61,483.28 671.21,486.81 666.61,490.34 671.21,493.87 666.61,497.41 671.21,500.94 666.61,504.47 671.21,508.00 666.61,511.53"/>
<polyline points="667.39,448.35 671.99,451.90 667.39,455.45 671.99,459.00 667.39,462.55 671.99,466.10 667.39,469.65 671.99,473.20 667.39,476.74 671.99,480.29 667.39,483.84 671.99,487.39 667.39,490.94 671.99,494.49 667.39,498.04 671.99,501.59 667.39,505.14 671.99,508.69 667.39,512.24"/>
<polyline points="667.91,448.62 672.51,452.19 667.91,455.77 672.51,459.34 667.91,462.91 672.51,466.49 667.91,470.06 672.51,473.63 667.91,477.21 672.51,480.78 667.91,484.35 672.51,487.93 667.91,491.50 672.51,495.07 667.91,498.65 672.51,502.22 667.91,505.79 672.51,509.37 667.91,512.94"/>
<polyline points="668.17,448.76 672.77,452.17 668.17,455.59 672.77,459.00 668.17,462.42 672.77,465.83 668.17,469.25 672.77,472.66 668.17,476.08 672.77,479.49 668.17,482.91 672.77,486.32 668.17,489.74 672.77,493.16 668.17,496.57 672.77,499.99 668.17,503.40 672.77,506.82 668.17,510.23 672.77,513.65"/>
</g>
<path d="M332,446.5 A170,24.5 0 0 0 672,446.5" fill="none" stroke="#000" stroke-width="1.2"/>
<g fill="none" stroke="#000" stroke-width="1.4" stroke-linejoin="round">
<polyline points="335.80,446.50 331.20,449.95 335.80,453.40 331.20,456.86 335.80,460.31 331.20,463.76 335.80,467.21 331.20,470.67 335.80,474.12 331.20,477.57 335.80,481.02 331.20,484.48 335.80,487.93 331.20,491.38 335.80,494.83 331.20,498.29 335.80,501.74 331.20,505.19 335.80,508.64 331.20,512.10 335.80,515.55 331.20,519.00"/>
<polyline points="335.93,447.46 331.33,450.89 335.93,454.32 331.33,457.75 335.93,461.18 331.33,464.61 335.93,468.04 331.33,471.47 335.93,474.90 331.33,478.33 335.93,481.76 331.33,485.19 335.93,488.62 331.33,492.05 335.93,495.48 331.33,498.91 335.93,502.34 331.33,505.77 335.93,509.20 331.33,512.63 335.93,516.06 331.33,519.49"/>
<polyline points="336.32,448.42 331.72,452.00 336.32,455.58 331.72,459.16 336.32,462.73 331.72,466.31 336.32,469.89 331.72,473.47 336.32,477.05 331.72,480.62 336.32,484.20 331.72,487.78 336.32,491.36 331.72,494.94 336.32,498.51 331.72,502.09 336.32,505.67 331.72,509.25 336.32,512.82 331.72,516.40 336.32,519.98"/>
<polyline points="336.97,449.38 332.37,452.93 336.97,456.49 332.37,460.04 336.97,463.60 332.37,467.15 336.97,470.71 332.37,474.26 336.97,477.82 332.37,481.37 336.97,484.92 332.37,488.48 336.97,492.03 332.37,495.59 336.97,499.14 332.37,502.70 336.97,506.25 332.37,509.81 336.97,513.36 332.37,516.91 336.97,520.47"/>
<polyline points="337.87,450.33 333.27,453.86 337.87,457.39 333.27,460.93 337.87,464.46 333.27,467.99 337.87,471.52 333.27,475.05 337.87,478.58 333.27,482.11 337.87,485.64 333.27,489.18 337.87,492.71 333.27,496.24 337.87,499.77 333.27,503.30 337.87,506.83 333.27,510.36 337.87,513.89 333.27,517.42 337.87,520.96"/>
<polyline points="339.04,451.28 334.44,454.79 339.04,458.30 334.44,461.80 339.04,465.31 334.44,468.82 339.04,472.33 334.44,475.84 339.04,479.34 334.44,482.85 339.04,486.36 334.44,489.87 339.04,493.38 334.44,496.88 339.04,500.39 334.44,503.90 339.04,507.41 334.44,510.91 339.04,514.42 334.44,517.93 339.04,521.44"/>
<polyline points="340.46,452.22 335.86,455.70 340.46,459.19 335.86,462.67 340.46,466.16 335.86,469.64 340.46,473.13 335.86,476.61 340.46,480.10 335.86,483.58 340.46,487.07 335.86,490.55 340.46,494.04 335.86,497.52 340.46,501.01 335.86,504.49 340.46,507.98 335.86,511.46 340.46,514.95 335.86,518.43 340.46,521.92"/>
<polyline points="342.13,453.15 337.53,456.61 342.13,460.07 337.53,463.54 342.13,467.00 337.53,470.46 342.13,473.92 337.53,477.39 342.13,480.85 337.53,484.31 342.13,487.77 337.53,491.23 342.13,494.70 337.53,498.16 342.13,501.62 337.53,505.08 342.13,508.54 337.53,512.01 342.13,515.47 337.53,518.93 342.13,522.39"/>
<polyline points="344.05,454.07 339.45,457.51 344.05,460.95 339.45,464.39 344.05,467.83 339.45,471.27 344.05,474.71 339.45,478.15 344.05,481.59 339.45,485.03 344.05,488.47 339.45,491.91 344.05,495.35 339.45,498.79 344.05,502.23 339.45,505.66 344.05,509.10 339.45,512.54 344.05,515.98 339.45,519.42 344.05,522.86"/>
<polyline points="346.21,454.98 341.61,458.40 346.21,461.81 341.61,465.23 346.21,468.65 341.61,472.07 346.21,475.48 341.61,478.90 346.21,482.32 341.61,485.74 346.21,489.15 341.61,492.57 346.21,495.99 341.61,499.41 346.21,502.82 341.61,506.24 346.21,509.66 341.61,513.07 346.21,516.49 341.61,519.91 346.21,523.33"/>
<polyline points="348.63,455.88 344.03,459.45 348.63,463.02 344.03,466.60 348.63,470.17 344.03,473.75 348.63,477.32 344.03,480.89 348.63,484.47 344.03,488.04 348.63,491.62 344.03,495.19 348.63,498.76 344.03,502.34 348.63,505.91 344.03,509.49 348.63,513.06 344.03,516.64 348.63,520.21 344.03,523.78"/>
<polyline points="351.28,456.76 346.68,460.31 351.28,463.86 346.68,467.41 351.28,470.96 346.68,474.51 351.28,478.07 346.68,481.62 351.28,485.17 346.68,488.72 351.28,492.27 346.68,495.82 351.28,499.37 346.68,502.93 351.28,506.48 346.68,510.03 351.28,513.58 346.68,517.13 351.28,520.68 346.68,524.23"/>
<polyline points="354.17,457.62 349.57,461.15 354.17,464.68 349.57,468.21 354.17,471.74 349.57,475.27 354.17,478.80 349.57,482.33 354.17,485.86 349.57,489.38 354.17,492.91 349.57,496.44 354.17,499.97 349.57,503.50 354.17,507.03 349.57,510.56 354.17,514.09 349.57,517.62 354.17,521.15 349.57,524.67"/>
<polyline points="357.28,458.47 352.68,461.98 357.28,465.49 352.68,468.99 357.28,472.50 352.68,476.01 357.28,479.51 352.68,483.02 357.28,486.53 352.68,490.04 357.28,493.54 352.68,497.05 357.28,500.56 352.68,504.06 357.28,507.57 352.68,511.08 357.28,514.59 352.68,518.09 357.28,521.60 352.68,525.11"/>
<polyline points="360.63,459.30 356.03,462.79 360.63,466.27 356.03,469.76 360.63,473.24 356.03,476.73 360.63,480.22 356.03,483.70 360.63,487.19 356.03,490.67 360.63,494.16 356.03,497.64 360.63,501.13 356.03,504.62 360.63,508.10 356.03,511.59 360.63,515.07 356.03,518.56 360.63,522.05 356.03,525.53"/>
<polyline points="364.20,460.11 359.60,463.58 364.20,467.04 359.60,470.51 364.20,473.97 359.60,477.44 364.20,480.90 359.60,484.37 364.20,487.83 359.60,491.30 364.20,494.76 359.60,498.23 364.20,501.69 359.60,505.16 364.20,508.62 359.60,512.09 364.20,515.55 359.60,519.01 364.20,522.48 359.60,525.94"/>
<polyline points="367.98,460.90 363.38,464.35 367.98,467.79 363.38,471.23 367.98,474.68 363.38,478.12 367.98,481.57 363.38,485.01 367.98,488.46 363.38,491.90 367.98,495.35 363.38,498.79 367.98,502.24 363.38,505.68 367.98,509.12 363.38,512.57 367.98,516.01 363.38,519.46 367.98,522.90 363.38,526.35"/>
<polyline points="371.97,461.67 367.37,465.09 371.97,468.52 367.37,471.94 371.97,475.37 367.37,478.79 371.97,482.22 367.37,485.64 371.97,489.07 367.37,492.49 371.97,495.92 367.37,499.34 371.97,502.77 367.37,506.19 371.97,509.61 367.37,513.04 371.97,516.46 367.37,519.89 371.97,523.31 367.37,526.74"/>
<polyline points="376.17,462.41 371.57,466.01 376.17,469.60 371.57,473.20 376.17,476.79 371.57,480.39 376.17,483.98 371.57,487.58 376.17,491.17 371.57,494.76 376.17,498.36 371.57,501.95 376.17,505.55 371.57,509.14 376.17,512.74 371.57,516.33 376.17,519.93 371.57,523.52 376.17,527.12"/>
<polyline points="380.57,463.13 375.97,466.71 380.57,470.28 375.97,473.86 380.57,477.43 375.97,481.01 380.57,484.58 375.97,488.16 380.57,491.73 375.97,495.31 380.57,498.88 375.97,502.46 380.57,506.03 375.97,509.61 380.57,513.18 375.97,516.76 380.57,520.33 375.97,523.91 380.57,527.49"/>
<polyline points="385.15,463.82 380.55,467.38 385.15,470.94 380.55,474.49 385.15,478.05 380.55,481.61 385.15,485.16 380.55,488.72 385.15,492.28 380.55,495.83 385.15,499.39 380.55,502.94 385.15,506.50 380.55,510.06 385.15,513.61 380.55,517.17 385.15,520.73 380.55,524.28 385.15,527.84"/>
<polyline points="389.92,464.49 385.32,468.03 389.92,471.57 385.32,475.11 389.92,478.64 385.32,482.18 389.92,485.72 385.32,489.26 389.92,492.80 385.32,496.33 389.92,499.87 385.32,503.41 389.92,506.95 385.32,510.49 389.92,514.03 385.32,517.56 389.92,521.10 385.32,524.64 389.92,528.18"/>
<polyline points="394.87,465.13 390.27,468.65 394.87,472.17 390.27,475.69 394.87,479.21 390.27,482.73 394.87,486.25 390.27,489.78 394.87,493.30 390.27,496.82 394.87,500.34 390.27,503.86 394.87,507.38 390.27,510.90 394.87,514.42 390.27,517.94 394.87,521.46 390.27,524.98 394.87,528.51"/>
<polyline points="399.98,465.74 395.38,469.24 399.98,472.75 395.38,476.25 399.98,479.76 395.38,483.26 399.98,486.77 395.38,490.27 399.98,493.77 395.38,497.28 399.98,500.78 395.38,504.29 399.98,507.79 395.38,511.30 399.98,514.80 395.38,518.30 399.98,521.81 395.38,525.31 399.98,528.82"/>
<polyline points="405.26,466.32 400.66,469.81 405.26,473.30 400.66,476.79 405.26,480.27 400.66,483.76 405.26,487.25 400.66,490.74 405.26,494.23 400.66,497.72 405.26,501.21 400.66,504.69 405.26,508.18 400.66,511.67 405.26,515.16 400.66,518.65 405.26,522.14 400.66,525.62 405.26,529.11"/>
<polyline points="410.69,466.87 406.09,470.34 410.69,473.82 406.09,477.29 410.69,480.76 406.09,484.24 410.69,487.71 406.09,491.19 410.69,494.66 406.09,498.13 410.69,501.61 406.09,505.08 410.69,508.55 406.09,512.03 410.69,515.50 406.09,518.97 410.69,522.45 406.09,525.92 410.69,529.39"/>
<polyline points="416.26,467.39 411.66,470.85 416.26,474.31 411.66,477.77 416.26,481.23 411.66,484.69 416.26,488.15 411.66,491.61 416.26,495.06 411.66,498.52 416.26,501.98 411.66,505.44 416.26,508.90 411.66,512.36 416.26,515.82 411.66,519.28 416.26,522.74 411.66,526.20 416.26,529.66"/>
<polyline points="421.97,467.88 417.37,471.32 421.97,474.77 417.37,478.21 421.97,481.66 417.37,485.11 421.97,488.55 417.37,492.00 421.97,495.45 417.37,498.89 421.97,502.34 417.37,505.78 421.97,509.23 417.37,512.68 421.97,516.12 417.37,519.57 421.97,523.01 417.37,526.46 421.97,529.91"/>
<polyline points="427.80,468.33 423.20,471.76 427.80,475.20 423.20,478.63 427.80,482.06 423.20,485.50 427.80,488.93 423.20,492.37 427.80,495.80 423.20,499.23 427.80,502.67 423.20,506.10 427.80,509.53 423.20,512.97 427.80,516.40 423.20,519.84 427.80,523.27 423.20,526.70 427.80,530.14"/>
<polyline points="433.76,468.75 429.16,472.17 433.76,475.59 429.16,479.02 433.76,482.44 429.16,485.86 433.76,489.28 429.16,492.71 433.76,496.13 429.16,499.55 433.76,502.97 429.16,506.40 433.76,509.82 429.16,513.24 433.76,516.66 429.16,520.08 433.76,523.51 429.16,526.93 433.76,530.35"/>
<polyline points="439.82,469.14 435.22,472.55 439.82,475.96 435.22,479.37 439.82,482.78 435.22,486.19 439.82,489.61 435.22,493.02 439.82,496.43 435.22,499.84 439.82,503.25 435.22,506.67 439.82,510.08 435.22,513.49 439.82,516.90 435.22,520.31 439.82,523.72 435.22,527.14 439.82,530.55"/>
<polyline points="445.98,469.49 441.38,473.09 445.98,476.69 441.38,480.29 445.98,483.90 441.38,487.50 445.98,491.10 441.38,494.70 445.98,498.31 441.38,501.91 445.98,505.51 441.38,509.11 445.98,512.72 441.38,516.32 445.98,519.92 441.38,523.52 445.98,527.12 441.38,530.73"/>
<polyline points="452.23,469.80 447.63,473.39 452.23,476.99 447.63,480.58 452.23,484.17 447.63,487.77 452.23,491.36 447.63,494.95 452.23,498.55 447.63,502.14 452.23,505.73 447.63,509.33 452.23,512.92 447.63,516.51 452.23,520.11 447.63,523.70 452.23,527.29 447.63,530.89"/>
<polyline points="458.56,470.08 453.96,473.67 458.56,477.25 453.96,480.84 458.56,484.42 453.96,488.01 458.56,491.59 453.96,495.18 458.56,498.76 453.96,502.35 458.56,505.93 453.96,509.52 458.56,513.10 453.96,516.69 458.56,520.27 453.96,523.86 458.56,527.45 453.96,531.03"/>
<polyline points="464.96,470.32 460.36,473.90 464.96,477.48 460.36,481.06 464.96,484.64 460.36,488.21 464.96,491.79 460.36,495.37 464.96,498.95 460.36,502.53 464.96,506.11 460.36,509.68 464.96,513.26 460.36,516.84 464.96,520.42 460.36,524.00 464.96,527.58 460.36,531.15"/>
<polyline points="471.43,470.53 466.83,474.10 471.43,477.67 466.83,481.25 471.43,484.82 466.83,488.39 471.43,491.96 466.83,495.54 471.43,499.11 466.83,502.68 471.43,506.25 466.83,509.83 471.43,513.40 466.83,516.97 471.43,520.54 466.83,524.12 471.43,527.69 466.83,531.26"/>
<polyline points="477.94,470.70 473.34,474.27 477.94,477.83 473.34,481.40 477.94,484.97 473.34,488.54 477.94,492.10 473.34,495.67 477.94,499.24 473.34,502.81 477.94,506.37 473.34,509.94 477.94,513.51 473.34,517.08 477.94,520.64 473.34,524.21 477.94,527.78 473.34,531.35"/>
<polyline points="484.49,470.83 479.89,474.39 484.49,477.96 479.89,481.52 484.49,485.09 479.89,488.65 484.49,492.21 479.89,495.78 484.49,499.34 479.89,502.90 484.49,506.47 479.89,510.03 484.49,513.59 479.89,517.16 484.49,520.72 479.89,524.29 484.49,527.85 479.89,531.41"/>
<polyline points="491.08,470.92 486.48,474.49 491.08,478.05 486.48,481.61 491.08,485.17 486.48,488.73 491.08,492.29 486.48,495.85 491.08,499.41 486.48,502.97 491.08,506.53 486.48,510.10 491.08,513.66 486.48,517.22 491.08,520.78 486.48,524.34 491.08,527.90 486.48,531.46"/>
<polyline points="497.68,470.98 493.08,474.54 497.68,478.10 493.08,481.66 497.68,485.22 493.08,488.78 497.68,492.34 493.08,495.90 497.68,499.46 493.08,503.02 497.68,506.57 493.08,510.13 497.68,513.69 493.08,517.25 497.68,520.81 493.08,524.37 497.68,527.93 493.08,531.49"/>
<polyline points="504.30,471.00 499.70,474.56 504.30,478.12 499.70,481.68 504.30,485.24 499.70,488.79 504.30,492.35 499.70,495.91 504.30,499.47 499.70,503.03 504.30,506.59 499.70,510.15 504.30,513.71 499.70,517.26 504.30,520.82 499.70,524.38 504.30,527.94 499.70,531.50"/>
<polyline points="510.92,470.98 506.32,474.54 510.92,478.10 506.32,481.66 510.92,485.22 506.32,488.78 510.92,492.34 506.32,495.90 510.92,499.46 506.32,503.02 510.92,506.57 506.32,510.13 510.92,513.69 506.32,517.25 510.92,520.81 506.32,524.37 510.92,527.93 506.32,531.49"/>
<polyline points="517.52,470.92 512.92,474.49 517.52,478.05 512.92,481.61 517.52,485.17 512.92,488.73 517.52,492.29 512.92,495.85 517.52,499.41 512.92,502.97 517.52,506.53 512.92,510.10 517.52,513.66 512.92,517.22 517.52,520.78 512.92,524.34 517.52,527.90 512.92,531.46"/>
<polyline points="524.11,470.83 519.51,474.39 524.11,477.96 519.51,481.52 524.11,485.09 519.51,488.65 524.11,492.21 519.51,495.78 524.11,499.34 519.51,502.90 524.11,506.47 519.51,510.03 524.11,513.59 519.51,517.16 524.11,520.72 519.51,524.29 524.11,527.85 519.51,531.41"/>
<polyline points="530.66,470.70 526.06,474.27 530.66,477.83 526.06,481.40 530.66,484.97 526.06,488.54 530.66,492.10 526.06,495.67 530.66,499.24 526.06,502.81 530.66,506.37 526.06,509.94 530.66,513.51 526.06,517.08 530.66,520.64 526.06,524.21 530.66,527.78 526.06,531.35"/>
<polyline points="537.17,470.53 532.57,474.10 537.17,477.67 532.57,481.25 537.17,484.82 532.57,488.39 537.17,491.96 532.57,495.54 537.17,499.11 532.57,502.68 537.17,506.25 532.57,509.83 537.17,513.40 532.57,516.97 537.17,520.54 532.57,524.12 537.17,527.69 532.57,531.26"/>
<polyline points="543.64,470.32 539.04,473.90 543.64,477.48 539.04,481.06 543.64,484.64 539.04,488.21 543.64,491.79 539.04,495.37 543.64,498.95 539.04,502.53 543.64,506.11 539.04,509.68 543.64,513.26 539.04,516.84 543.64,520.42 539.04,524.00 543.64,527.58 539.04,531.15"/>
<polyline points="550.04,470.08 545.44,473.67 550.04,477.25 545.44,480.84 550.04,484.42 545.44,488.01 550.04,491.59 545.44,495.18 550.04,498.76 545.44,502.35 550.04,505.93 545.44,509.52 550.04,513.10 545.44,516.69 550.04,520.27 545.44,523.86 550.04,527.45 545.44,531.03"/>
<polyline points="556.37,469.80 551.77,473.39 556.37,476.99 551.77,480.58 556.37,484.17 551.77,487.77 556.37,491.36 551.77,494.95 556.37,498.55 551.77,502.14 556.37,505.73 551.77,509.33 556.37,512.92 551.77,516.51 556.37,520.11 551.77,523.70 556.37,527.29 551.77,530.89"/>
<polyline points="562.62,469.49 558.02,473.09 562.62,476.69 558.02,480.29 562.62,483.90 558.02,487.50 562.62,491.10 558.02,494.70 562.62,498.31 558.02,501.91 562.62,505.51 558.02,509.11 562.62,512.72 558.02,516.32 562.62,519.92 558.02,523.52 562.62,527.12 558.02,530.73"/>
<polyline points="568.78,469.14 564.18,472.55 568.78,475.96 564.18,479.37 568.78,482.78 564.18,486.19 568.78,489.61 564.18,493.02 568.78,496.43 564.18,499.84 568.78,503.25 564.18,506.67 568.78,510.08 564.18,513.49 568.78,516.90 564.18,520.31 568.78,523.72 564.18,527.14 568.78,530.55"/>
<polyline points="574.84,468.75 570.24,472.17 574.84,475.59 570.24,479.02 574.84,482.44 570.24,485.86 574.84,489.28 570.24,492.71 574.84,496.13 570.24,499.55 574.84,502.97 570.24,506.40 574.84,509.82 570.24,513.24 574.84,516.66 570.24,520.08 574.84,523.51 570.24,526.93 574.84,530.35"/>
<polyline points="580.80,468.33 576.20,471.76 580.80,475.20 576.20,478.63 580.80,482.06 576.20,485.50 580.80,488.93 576.20,492.37 580.80,495.80 576.20,499.23 580.80,502.67 576.20,506.10 580.80,509.53 576.20,512.97 580.80,516.40 576.20,519.84 580.80,523.27 576.20,526.70 580.80,530.14"/>
<polyline points="586.63,467.88 582.03,471.32 586.63,474.77 582.03,478.21 586.63,481.66 582.03,485.11 586.63,488.55 582.03,492.00 586.63,495.45 582.03,498.89 586.63,502.34 582.03,505.78 586.63,509.23 582.03,512.68 586.63,516.12 582.03,519.57 586.63,523.01 582.03,526.46 586.63,529.91"/>
<polyline points="592.34,467.39 587.74,470.85 592.34,474.31 587.74,477.77 592.34,481.23 587.74,484.69 592.34,488.15 587.74,491.61 592.34,495.06 587.74,498.52 592.34,501.98 587.74,505.44 592.34,508.90 587.74,512.36 592.34,515.82 587.74,519.28 592.34,522.74 587.74,526.20 592.34,529.66"/>
<polyline points="597.91,466.87 593.31,470.34 597.91,473.82 593.31,477.29 597.91,480.76 593.31,484.24 597.91,487.71 593.31,491.19 597.91,494.66 593.31,498.13 597.91,501.61 593.31,505.08 597.91,508.55 593.31,512.03 597.91,515.50 593.31,518.97 597.91,522.45 593.31,525.92 597.91,529.39"/>
<polyline points="603.34,466.32 598.74,469.81 603.34,473.30 598.74,476.79 603.34,480.27 598.74,483.76 603.34,487.25 598.74,490.74 603.34,494.23 598.74,497.72 603.34,501.21 598.74,504.69 603.34,508.18 598.74,511.67 603.34,515.16 598.74,518.65 603.34,522.14 598.74,525.62 603.34,529.11"/>
<polyline points="608.62,465.74 604.02,469.24 608.62,472.75 604.02,476.25 608.62,479.76 604.02,483.26 608.62,486.77 604.02,490.27 608.62,493.77 604.02,497.28 608.62,500.78 604.02,504.29 608.62,507.79 604.02,511.30 608.62,514.80 604.02,518.30 608.62,521.81 604.02,525.31 608.62,528.82"/>
<polyline points="613.73,465.13 609.13,468.65 613.73,472.17 609.13,475.69 613.73,479.21 609.13,482.73 613.73,486.25 609.13,489.78 613.73,493.30 609.13,496.82 613.73,500.34 609.13,503.86 613.73,507.38 609.13,510.90 613.73,514.42 609.13,517.94 613.73,521.46 609.13,524.98 613.73,528.51"/>
<polyline points="618.68,464.49 614.08,468.03 618.68,471.57 614.08,475.11 618.68,478.64 614.08,482.18 618.68,485.72 614.08,489.26 618.68,492.80 614.08,496.33 618.68,499.87 614.08,503.41 618.68,506.95 614.08,510.49 618.68,514.03 614.08,517.56 618.68,521.10 614.08,524.64 618.68,528.18"/>
<polyline points="623.45,463.82 618.85,467.38 623.45,470.94 618.85,474.49 623.45,478.05 618.85,481.61 623.45,485.16 618.85,488.72 623.45,492.28 618.85,495.83 623.45,499.39 618.85,502.94 623.45,506.50 618.85,510.06 623.45,513.61 618.85,517.17 623.45,520.73 618.85,524.28 623.45,527.84"/>
<polyline points="628.03,463.13 623.43,466.71 628.03,470.28 623.43,473.86 628.03,477.43 623.43,481.01 628.03,484.58 623.43,488.16 628.03,491.73 623.43,495.31 628.03,498.88 623.43,502.46 628.03,506.03 623.43,509.61 628.03,513.18 623.43,516.76 628.03,520.33 623.43,523.91 628.03,527.49"/>
<polyline points="632.43,462.41 627.83,466.01 632.43,469.60 627.83,473.20 632.43,476.79 627.83,480.39 632.43,483.98 627.83,487.58 632.43,491.17 627.83,494.76 632.43,498.36 627.83,501.95 632.43,505.55 627.83,509.14 632.43,512.74 627.83,516.33 632.43,519.93 627.83,523.52 632.43,527.12"/>
<polyline points="636.63,461.67 632.03,465.09 636.63,468.52 632.03,471.94 636.63,475.37 632.03,478.79 636.63,482.22 632.03,485.64 636.63,489.07 632.03,492.49 636.63,495.92 632.03,499.34 636.63,502.77 632.03,506.19 636.63,509.61 632.03,513.04 636.63,516.46 632.03,519.89 636.63,523.31 632.03,526.74"/>
<polyline points="640.62,460.90 636.02,464.35 640.62,467.79 636.02,471.23 640.62,474.68 636.02,478.12 640.62,481.57 636.02,485.01 640.62,488.46 636.02,491.90 640.62,495.35 636.02,498.79 640.62,502.24 636.02,505.68 640.62,509.12 636.02,512.57 640.62,516.01 636.02,519.46 640.62,522.90 636.02,526.35"/>
<polyline points="644.40,460.11 639.80,463.58 644.40,467.04 639.80,470.51 644.40,473.97 639.80,477.44 644.40,480.90 639.80,484.37 644.40,487.83 639.80,491.30 644.40,494.76 639.80,498.23 644.40,501.69 639.80,505.16 644.40,508.62 639.80,512.09 644.40,515.55 639.80,519.01 644.40,522.48 639.80,525.94"/>
<polyline points="647.97,459.30 643.37,462.79 647.97,466.27 643.37,469.76 647.97,473.24 643.37,476.73 647.97,480.22 643.37,483.70 647.97,487.19 643.37,490.67 647.97,494.16 643.37,497.64 647.97,501.13 643.37,504.62 647.97,508.10 643.37,511.59 647.97,515.07 643.37,518.56 647.97,522.05 643.37,525.53"/>
<polyline points="651.32,458.47 646.72,461.98 651.32,465.49 646.72,468.99 651.32,472.50 646.72,476.01 651.32,479.51 646.72,483.02 651.32,486.53 646.72,490.04 651.32,493.54 646.72,497.05 651.32,500.56 646.72,504.06 651.32,507.57 646.72,511.08 651.32,514.59 646.72,518.09 651.32,521.60 646.72,525.11"/>
<polyline points="654.43,457.62 649.83,461.15 654.43,464.68 649.83,468.21 654.43,471.74 649.83,475.27 654.43,478.80 649.83,482.33 654.43,485.86 649.83,489.38 654.43,492.91 649.83,496.44 654.43,499.97 649.83,503.50 654.43,507.03 649.83,510.56 654.43,514.09 649.83,517.62 654.43,521.15 649.83,524.67"/>
<polyline points="657.32,456.76 652.72,460.31 657.32,463.86 652.72,467.41 657.32,470.96 652.72,474.51 657.32,478.07 652.72,481.62 657.32,485.17 652.72,488.72 657.32,492.27 652.72,495.82 657.32,499.37 652.72,502.93 657.32,506.48 652.72,510.03 657.32,513.58 652.72,517.13 657.32,520.68 652.72,524.23"/>
<polyline points="659.97,455.88 655.37,459.45 659.97,463.02 655.37,466.60 659.97,470.17 655.37,473.75 659.97,477.32 655.37,480.89 659.97,484.47 655.37,488.04 659.97,491.62 655.37,495.19 659.97,498.76 655.37,502.34 659.97,505.91 655.37,509.49 659.97,513.06 655.37,516.64 659.97,520.21 655.37,523.78"/>
<polyline points="662.39,454.98 657.79,458.40 662.39,461.81 657.79,465.23 662.39,468.65 657.79,472.07 662.39,475.48 657.79,478.90 662.39,482.32 657.79,485.74 662.39,489.15 657.79,492.57 662.39,495.99 657.79,499.41 662.39,502.82 657.79,506.24 662.39,509.66 657.79,513.07 662.39,516.49 657.79,519.91 662.39,523.33"/>
<polyline points="664.55,454.07 659.95,457.51 664.55,460.95 659.95,464.39 664.55,467.83 659.95,471.27 664.55,474.71 659.95,478.15 664.55,481.59 659.95,485.03 664.55,488.47 659.95,491.91 664.55,495.35 659.95,498.79 664.55,502.23 659.95,505.66 664.55,509.10 659.95,512.54 664.55,515.98 659.95,519.42 664.55,522.86"/>
<polyline points="666.47,453.15 661.87,456.61 666.47,460.07 661.87,463.54 666.47,467.00 661.87,470.46 666.47,473.92 661.87,477.39 666.47,480.85 661.87,484.31 666.47,487.77 661.87,491.23 666.47,494.70 661.87,498.16 666.47,501.62 661.87,505.08 666.47,508.54 661.87,512.01 666.47,515.47 661.87,518.93 666.47,522.39"/>
<polyline points="668.14,452.22 663.54,455.70 668.14,459.19 663.54,462.67 668.14,466.16 663.54,469.64 668.14,473.13 663.54,476.61 668.14,480.10 663.54,483.58 668.14,487.07 663.54,490.55 668.14,494.04 663.54,497.52 668.14,501.01 663.54,504.49 668.14,507.98 663.54,511.46 668.14,514.95 663.54,518.43 668.14,521.92"/>
<polyline points="669.56,451.28 664.96,454.79 669.56,458.30 664.96,461.80 669.56,465.31 664.96,468.82 669.56,472.33 664.96,475.84 669.56,479.34 664.96,482.85 669.56,486.36 664.96,489.87 669.56,493.38 664.96,496.88 669.56,500.39 664.96,503.90 669.56,507.41 664.96,510.91 669.56,514.42 664.96,517.93 669.56,521.44"/>
<polyline points="670.73,450.33 666.13,453.86 670.73,457.39 666.13,460.93 670.73,464.46 666.13,467.99 670.73,471.52 666.13,475.05 670.73,478.58 666.13,482.11 670.73,485.64 666.13,489.18 670.73,492.71 666.13,496.24 670.73,499.77 666.13,503.30 670.73,506.83 666.13,510.36 670.73,513.89 666.13,517.42 670.73,520.96"/>
<polyline points="671.63,449.38 667.03,452.93 671.63,456.49 667.03,460.04 671.63,463.60 667.03,467.15 671.63,470.71 667.03,474.26 671.63,477.82 667.03,481.37 671.63,484.92 667.03,488.48 671.63,492.03 667.03,495.59 671.63,499.14 667.03,502.70 671.63,506.25 667.03,509.81 671.63,513.36 667.03,516.91 671.63,520.47"/>
<polyline points="672.28,448.42 667.68,452.00 672.28,455.58 667.68,459.16 672.28,462.73 667.68,466.31 672.28,469.89 667.68,473.47 672.28,477.05 667.68,480.62 672.28,484.20 667.68,487.78 672.28,491.36 667.68,494.94 672.28,498.51 667.68,502.09 672.28,505.67 667.68,509.25 672.28,512.82 667.68,516.40 672.28,519.98"/>
<polyline points="672.67,447.46 668.07,450.89 672.67,454.32 668.07,457.75 672.67,461.18 668.07,464.61 672.67,468.04 668.07,471.47 672.67,474.90 668.07,478.33 672.67,481.76 668.07,485.19 672.67,488.62 668.07,492.05 672.67,495.48 668.07,498.91 672.67,502.34 668.07,505.77 672.67,509.20 668.07,512.63 672.67,516.06 668.07,519.49"/>
<polyline points="672.80,446.50 668.20,449.95 672.80,453.40 668.20,456.86 672.80,460.31 668.20,463.76 672.80,467.21 668.20,470.67 672.80,474.12 668.20,477.57 672.80,481.02 668.20,484.48 672.80,487.93 668.20,491.38 672.80,494.83 668.20,498.29 672.80,501.74 668.20,505.19 672.80,508.64 668.20,512.10 672.80,515.55 668.20,519.00"/>
</g>
<path d="M332.2,446.8 A169.8,25.5 0 0 1 671.8,446.8 L671,448.5 A180,35.9 0 0 0 333,448.5 Z" fill="#fff" stroke="#000" stroke-width="2" stroke-linejoin="round"/>
<path d="M489,446 Q501,442.5 514,446 L514.5,458 Q501,462 488.5,458 Z" fill="#fff" stroke="#000" stroke-width="1.5"/>
<path d="M486,452 l5,-5" stroke="#000" stroke-width="1.2" fill="none"/>
<path d="M490,455 l5,-5" stroke="#000" stroke-width="1.2" fill="none"/>
<path d="M494,452 l5,-5" stroke="#000" stroke-width="1.2" fill="none"/>
<path d="M498,455 l5,-5" stroke="#000" stroke-width="1.2" fill="none"/>
<path d="M502,452 l5,-5" stroke="#000" stroke-width="1.2" fill="none"/>
<path d="M506,455 l5,-5" stroke="#000" stroke-width="1.2" fill="none"/>
<path d="M510,452 l5,-5" stroke="#000" stroke-width="1.2" fill="none"/>
<path d="M514,455 l5,-5" stroke="#000" stroke-width="1.2" fill="none"/>
<path d="M518,452 l5,-5" stroke="#000" stroke-width="1.2" fill="none"/>
<path d="M489,450 Q501,446.5 514,450 M488.7,454 Q501,457.5 514.3,454" stroke="#000" stroke-width="1.2" fill="none"/>
<polygon points="490.00,460.00 489.95,461.65 489.86,463.30 489.41,464.95 488.80,466.60 488.10,468.25 487.32,469.90 486.50,471.55 485.64,473.20 484.76,474.85 483.86,476.50 482.96,478.15 482.06,479.80 481.17,481.45 480.30,483.10 479.45,484.75 478.63,486.40 477.86,488.05 477.12,489.70 476.44,491.35 475.81,493.00 475.24,494.65 474.73,496.30 474.28,497.95 473.91,499.60 473.61,501.25 473.38,502.90 473.23,504.55 473.15,506.20 473.14,507.85 473.22,509.50 473.36,511.15 473.58,512.80 473.87,514.45 474.23,516.10 474.66,517.75 475.15,519.40 475.69,521.05 476.29,522.70 476.94,524.35 477.62,526.00 478.35,527.65 479.11,529.30 479.89,530.95 480.68,532.60 481.49,534.25 482.29,535.90 483.09,537.55 483.88,539.20 484.63,540.85 485.35,542.50 486.01,544.15 486.60,545.80 487.09,547.45 487.39,549.10 487.34,550.75 487.29,552.40 487.25,554.05 487.20,555.70 487.15,557.35 487.10,559.00 515.50,559.00 515.45,557.35 515.40,555.70 515.36,554.05 515.31,552.40 515.26,550.75 515.21,549.10 515.51,547.45 516.00,545.80 516.59,544.15 517.25,542.50 517.97,540.85 518.72,539.20 519.51,537.55 520.31,535.90 521.11,534.25 521.92,532.60 522.71,530.95 523.49,529.30 524.25,527.65 524.98,526.00 525.66,524.35 526.31,522.70 526.91,521.05 527.45,519.40 527.94,517.75 528.37,516.10 528.73,514.45 529.02,512.80 529.24,511.15 529.38,509.50 529.46,507.85 529.45,506.20 529.37,504.55 529.22,502.90 528.99,501.25 528.69,499.60 528.32,497.95 527.87,496.30 527.36,494.65 526.79,493.00 526.16,491.35 525.48,489.70 524.74,488.05 523.97,486.40 523.15,484.75 522.30,483.10 521.43,481.45 520.54,479.80 519.64,478.15 518.74,476.50 517.84,474.85 516.96,473.20 516.10,471.55 515.28,469.90 514.50,468.25 513.80,466.60 513.19,464.95 512.74,463.30 512.65,461.65 512.60,460.00" fill="#fff" stroke="#000" stroke-width="2.4" stroke-linejoin="round"/>
<clipPath id="cage"><polygon points="490.00,460.00 489.95,461.65 489.86,463.30 489.41,464.95 488.80,466.60 488.10,468.25 487.32,469.90 486.50,471.55 485.64,473.20 484.76,474.85 483.86,476.50 482.96,478.15 482.06,479.80 481.17,481.45 480.30,483.10 479.45,484.75 478.63,486.40 477.86,488.05 477.12,489.70 476.44,491.35 475.81,493.00 475.24,494.65 474.73,496.30 474.28,497.95 473.91,499.60 473.61,501.25 473.38,502.90 473.23,504.55 473.15,506.20 473.14,507.85 473.22,509.50 473.36,511.15 473.58,512.80 473.87,514.45 474.23,516.10 474.66,517.75 475.15,519.40 475.69,521.05 476.29,522.70 476.94,524.35 477.62,526.00 478.35,527.65 479.11,529.30 479.89,530.95 480.68,532.60 481.49,534.25 482.29,535.90 483.09,537.55 483.88,539.20 484.63,540.85 485.35,542.50 486.01,544.15 486.60,545.80 487.09,547.45 487.39,549.10 487.34,550.75 487.29,552.40 487.25,554.05 487.20,555.70 487.15,557.35 487.10,559.00 515.50,559.00 515.45,557.35 515.40,555.70 515.36,554.05 515.31,552.40 515.26,550.75 515.21,549.10 515.51,547.45 516.00,545.80 516.59,544.15 517.25,542.50 517.97,540.85 518.72,539.20 519.51,537.55 520.31,535.90 521.11,534.25 521.92,532.60 522.71,530.95 523.49,529.30 524.25,527.65 524.98,526.00 525.66,524.35 526.31,522.70 526.91,521.05 527.45,519.40 527.94,517.75 528.37,516.10 528.73,514.45 529.02,512.80 529.24,511.15 529.38,509.50 529.46,507.85 529.45,506.20 529.37,504.55 529.22,502.90 528.99,501.25 528.69,499.60 528.32,497.95 527.87,496.30 527.36,494.65 526.79,493.00 526.16,491.35 525.48,489.70 524.74,488.05 523.97,486.40 523.15,484.75 522.30,483.10 521.43,481.45 520.54,479.80 519.64,478.15 518.74,476.50 517.84,474.85 516.96,473.20 516.10,471.55 515.28,469.90 514.50,468.25 513.80,466.60 513.19,464.95 512.74,463.30 512.65,461.65 512.60,460.00"/></clipPath>
<g fill="none" stroke-linecap="butt" stroke-linejoin="round" clip-path="url(#cage)">
<polyline points="526.68,499.60 526.87,501.25 526.84,502.90 526.58,504.55 526.09,506.20 525.37,507.85 524.45,509.50 523.32,511.15 522.02,512.80 520.57,514.45 519.00,516.10 517.32,517.75 515.58,519.40 513.80,521.05 512.01,522.70 510.24,524.35 508.52,526.00 506.88,527.65 505.32,529.30 503.88,530.95 502.55,532.60 501.36,534.25 500.30,535.90 499.38,537.55 498.59,539.20 497.92,540.85 497.37,542.50 496.91,544.15 496.54,545.80 496.21,547.45 495.88,549.10 495.45,550.75 495.05,552.40 494.69,554.05 494.36,555.70 494.08,557.35 493.84,559.00" stroke="#000" stroke-width="2.2"/>
<polyline points="519.42,481.45 520.30,483.10 521.07,484.75 521.72,486.40 522.23,488.05 522.58,489.70 522.73,491.35 522.70,493.00 522.45,494.65 521.99,496.30 521.31,497.95 520.42,499.60 519.32,501.25 518.02,502.90 516.55,504.55 514.92,506.20 513.16,507.85 511.30,509.50 509.36,511.15 507.39,512.80 505.40,514.45 503.44,516.10 501.54,517.75 499.71,519.40 498.00,521.05 496.41,522.70 494.97,524.35 493.70,526.00 492.59,527.65 491.66,529.30 490.90,530.95 490.32,532.60 489.90,534.25 489.62,535.90 489.48,537.55 489.46,539.20 489.53,540.85 489.68,542.50 489.87,544.15 490.08,545.80 490.27,547.45 490.33,549.10 490.11,550.75 489.92,552.40 489.76,554.05 489.61,555.70 489.49,557.35 489.38,559.00" stroke="#000" stroke-width="2.2"/>
<polyline points="510.53,460.00 510.55,461.65 510.59,463.30 510.99,464.95 511.51,466.60 512.09,468.25 512.70,469.90 513.30,471.55 513.88,473.20 514.41,474.85 514.86,476.50 515.22,478.15 515.46,479.80 515.57,481.45 515.52,483.10 515.31,484.75 514.92,486.40 514.34,488.05 513.57,489.70 512.61,491.35 511.46,493.00 510.13,494.65 508.63,496.30 506.98,497.95 505.21,499.60 503.33,501.25 501.38,502.90 499.39,504.55 497.39,506.20 495.40,507.85 493.48,509.50 491.63,511.15 489.90,512.80 488.32,514.45 486.89,516.10 485.64,517.75 484.59,519.40 483.74,521.05 483.10,522.70 482.66,524.35 482.43,526.00 482.38,527.65 482.51,529.30 482.80,530.95 483.22,532.60 483.77,534.25 484.41,535.90 485.12,537.55 485.88,539.20" stroke="#000" stroke-width="2.2"/>
<polyline points="507.62,460.00 507.50,461.65 507.37,463.30 507.44,464.95 507.54,466.60 507.63,468.25 507.67,469.90 507.64,471.55 507.52,473.20 507.30,474.85 506.95,476.50 506.46,478.15 505.83,479.80 505.04,481.45 504.09,483.10 502.99,484.75 501.74,486.40 500.35,488.05 498.83,489.70 497.19,491.35 495.47,493.00 493.67,494.65 491.84,496.30 489.99,497.95 488.17,499.60 486.39,501.25 484.70,502.90 483.12,504.55 481.68,506.20 480.40,507.85 479.31,509.50 478.42,511.15 477.75,512.80 477.30,514.45 477.08,516.10 477.08,517.75 477.29,519.40 477.70,521.05 478.31,522.70" stroke="#000" stroke-width="2.2"/>
<polyline points="501.76,460.00 501.55,461.65 501.31,463.30 501.02,464.95 500.65,466.60 500.21,468.25 499.66,469.90 499.01,471.55 498.26,473.20 497.38,474.85 496.39,476.50 495.29,478.15 494.07,479.80 492.76,481.45 491.36,483.10 489.88,484.75 488.36,486.40 486.80,488.05 485.24,489.70 483.70,491.35 482.20,493.00 480.79,494.65 479.48,496.30 478.30,497.95 477.27,499.60 476.43,501.25 475.79,502.90 475.36,504.55 475.15,506.20" stroke="#000" stroke-width="2.2"/>
<polyline points="495.68,460.00 495.48,461.65 495.24,463.30 494.73,464.95 494.07,466.60 493.29,468.25 492.42,469.90 491.46,471.55 490.41,473.20 489.30,474.85 488.13,476.50 486.93,478.15 485.70,479.80 484.48,481.45 483.27,483.10 482.12,484.75 481.03,486.40 480.04,488.05 479.17,489.70 478.44,491.35" stroke="#000" stroke-width="2.2"/>
<polyline points="492.23,460.00 492.14,461.65 492.01,463.30 491.51,464.95 490.87,466.60 490.13,468.25 489.33,469.90 488.50,471.55" stroke="#000" stroke-width="2.2"/>
<polyline points="513.26,550.75 513.30,552.40 513.34,554.05 513.36,555.70 513.37,557.35 513.39,559.00" stroke="#000" stroke-width="2.2"/>
<polyline points="521.49,529.30 520.70,530.95 519.81,532.60 518.85,534.25 517.84,535.90 516.81,537.55 515.78,539.20 514.77,540.85 513.80,542.50 512.89,544.15 512.07,545.80 511.35,547.45 510.80,549.10 510.55,550.75 510.31,552.40 510.08,554.05 509.86,555.70 509.67,557.35 509.51,559.00" stroke="#000" stroke-width="2.2"/>
<polyline points="526.72,514.45 526.27,516.10 525.61,517.75 524.76,519.40 523.75,521.05 522.60,522.70 521.33,524.35 519.97,526.00 518.55,527.65 517.10,529.30 515.64,530.95 514.20,532.60 512.79,534.25 511.45,535.90 510.17,537.55 508.98,539.20 507.89,540.85 506.89,542.50 506.00,544.15 505.22,545.80 504.54,547.45 503.97,549.10 503.52,550.75 503.10,552.40 502.71,554.05 502.36,555.70 502.05,557.35 501.78,559.00" stroke="#000" stroke-width="2.2"/>
<path d="M498.7,478 V556 M504,478 V556" stroke="#000" stroke-width="1.4"/>
<polyline points="501.30,460.00 501.49,461.65 501.71,463.30 501.99,464.95 502.35,466.60 502.79,468.25 503.33,469.90 503.97,471.55 504.72,473.20 505.58,474.85 506.56,476.50 507.64,478.15 508.82,479.80 510.10,481.45 511.46,483.10 512.88,484.75 514.35,486.40 515.84,488.05 517.33,489.70 518.80,491.35 520.20,493.00 521.53,494.65 522.74,496.30 523.82,497.95 524.74,499.60 525.48,501.25 526.01,502.90 526.34,504.55 526.45,506.20" stroke="#000" stroke-width="7.4"/>
<polyline points="508.49,460.00 508.62,461.65 508.80,463.30 509.32,464.95 510.00,466.60 510.79,468.25 511.66,469.90 512.59,471.55 513.56,473.20 514.56,474.85 515.57,476.50 516.57,478.15 517.53,479.80 518.43,481.45" stroke="#000" stroke-width="7.4"/>
<polyline points="481.37,527.65 482.11,529.30 482.96,530.95 483.90,532.60 484.89,534.25 485.93,535.90 486.98,537.55 488.02,539.20 489.03,540.85 489.99,542.50 490.89,544.15 491.70,545.80 492.40,547.45 492.93,549.10 493.17,550.75 493.41,552.40 493.63,554.05 493.84,555.70 494.02,557.35 494.18,559.00" stroke="#000" stroke-width="7.4"/>
<polyline points="476.15,506.20 476.27,507.85 476.62,509.50 477.18,511.15 477.95,512.80 478.90,514.45 480.03,516.10 481.31,517.75 482.71,519.40 484.20,521.05 485.76,522.70 487.35,524.35 488.96,526.00 490.54,527.65 492.09,529.30 493.57,530.95 494.97,532.60 496.28,534.25 497.48,535.90 498.56,537.55 499.53,539.20 500.38,540.85 501.12,542.50 501.75,544.15 502.29,545.80 502.75,547.45 503.17,549.10 503.60,550.75 504.00,552.40 504.36,554.05 504.69,555.70 504.98,557.35 505.23,559.00" stroke="#000" stroke-width="7.4"/>
<polyline points="485.07,479.80 484.17,481.45 483.35,483.10 482.63,484.75 482.03,486.40 481.59,488.05 481.30,489.70 481.20,491.35 481.29,493.00 481.59,494.65 482.10,496.30 482.82,497.95 483.74,499.60 484.87,501.25 486.17,502.90 487.65,504.55 489.27,506.20 491.00,507.85 492.83,509.50 494.72,511.15 496.63,512.80 498.54,514.45 500.42,516.10 502.23,517.75 503.95,519.40 505.56,521.05 507.03,522.70 508.34,524.35 509.49,526.00 510.47,527.65 511.28,529.30 511.91,530.95 512.38,532.60 512.68,534.25 512.85,535.90 512.88,537.55 512.81,539.20 512.65,540.85 512.42,542.50 512.16,544.15 511.89,545.80 511.65,547.45 511.54,549.10 511.73,550.75 511.89,552.40 512.03,554.05 512.15,555.70 512.26,557.35 512.35,559.00" stroke="#000" stroke-width="7.4"/>
<polyline points="494.11,460.00 494.16,461.65 494.21,463.30 493.97,464.95 493.65,466.60 493.30,468.25 492.97,469.90 492.69,471.55 492.46,473.20 492.32,474.85 492.28,476.50 492.37,478.15 492.60,479.80 492.97,481.45 493.51,483.10 494.21,484.75 495.09,486.40 496.13,488.05 497.34,489.70 498.70,491.35 500.20,493.00 501.82,494.65 503.54,496.30 505.34,497.95 507.18,499.60 509.04,501.25 510.89,502.90 512.69,504.55 514.41,506.20 516.03,507.85 517.51,509.50 518.84,511.15 519.99,512.80 520.94,514.45 521.69,516.10 522.22,517.75 522.55,519.40 522.66,521.05 522.57,522.70 522.29,524.35 521.84,526.00 521.23,527.65 520.49,529.30" stroke="#000" stroke-width="7.4"/>
<polyline points="501.30,460.00 501.49,461.65 501.71,463.30 501.99,464.95 502.35,466.60 502.79,468.25 503.33,469.90 503.97,471.55 504.72,473.20 505.58,474.85 506.56,476.50 507.64,478.15 508.82,479.80 510.10,481.45 511.46,483.10 512.88,484.75 514.35,486.40 515.84,488.05 517.33,489.70 518.80,491.35 520.20,493.00 521.53,494.65 522.74,496.30 523.82,497.95 524.74,499.60 525.48,501.25 526.01,502.90 526.34,504.55 526.45,506.20" stroke="#fff" stroke-width="3.2"/>
<polyline points="508.49,460.00 508.62,461.65 508.80,463.30 509.32,464.95 510.00,466.60 510.79,468.25 511.66,469.90 512.59,471.55 513.56,473.20 514.56,474.85 515.57,476.50 516.57,478.15 517.53,479.80 518.43,481.45" stroke="#fff" stroke-width="3.2"/>
<polyline points="481.37,527.65 482.11,529.30 482.96,530.95 483.90,532.60 484.89,534.25 485.93,535.90 486.98,537.55 488.02,539.20 489.03,540.85 489.99,542.50 490.89,544.15 491.70,545.80 492.40,547.45 492.93,549.10 493.17,550.75 493.41,552.40 493.63,554.05 493.84,555.70 494.02,557.35 494.18,559.00" stroke="#fff" stroke-width="3.2"/>
<polyline points="476.15,506.20 476.27,507.85 476.62,509.50 477.18,511.15 477.95,512.80 478.90,514.45 480.03,516.10 481.31,517.75 482.71,519.40 484.20,521.05 485.76,522.70 487.35,524.35 488.96,526.00 490.54,527.65 492.09,529.30 493.57,530.95 494.97,532.60 496.28,534.25 497.48,535.90 498.56,537.55 499.53,539.20 500.38,540.85 501.12,542.50 501.75,544.15 502.29,545.80 502.75,547.45 503.17,549.10 503.60,550.75 504.00,552.40 504.36,554.05 504.69,555.70 504.98,557.35 505.23,559.00" stroke="#fff" stroke-width="3.2"/>
<polyline points="485.07,479.80 484.17,481.45 483.35,483.10 482.63,484.75 482.03,486.40 481.59,488.05 481.30,489.70 481.20,491.35 481.29,493.00 481.59,494.65 482.10,496.30 482.82,497.95 483.74,499.60 484.87,501.25 486.17,502.90 487.65,504.55 489.27,506.20 491.00,507.85 492.83,509.50 494.72,511.15 496.63,512.80 498.54,514.45 500.42,516.10 502.23,517.75 503.95,519.40 505.56,521.05 507.03,522.70 508.34,524.35 509.49,526.00 510.47,527.65 511.28,529.30 511.91,530.95 512.38,532.60 512.68,534.25 512.85,535.90 512.88,537.55 512.81,539.20 512.65,540.85 512.42,542.50 512.16,544.15 511.89,545.80 511.65,547.45 511.54,549.10 511.73,550.75 511.89,552.40 512.03,554.05 512.15,555.70 512.26,557.35 512.35,559.00" stroke="#fff" stroke-width="3.2"/>
<polyline points="494.11,460.00 494.16,461.65 494.21,463.30 493.97,464.95 493.65,466.60 493.30,468.25 492.97,469.90 492.69,471.55 492.46,473.20 492.32,474.85 492.28,476.50 492.37,478.15 492.60,479.80 492.97,481.45 493.51,483.10 494.21,484.75 495.09,486.40 496.13,488.05 497.34,489.70 498.70,491.35 500.20,493.00 501.82,494.65 503.54,496.30 505.34,497.95 507.18,499.60 509.04,501.25 510.89,502.90 512.69,504.55 514.41,506.20 516.03,507.85 517.51,509.50 518.84,511.15 519.99,512.80 520.94,514.45 521.69,516.10 522.22,517.75 522.55,519.40 522.66,521.05 522.57,522.70 522.29,524.35 521.84,526.00 521.23,527.65 520.49,529.30" stroke="#fff" stroke-width="3.2"/>
<polyline points="501.30,460.00 501.49,461.65 501.71,463.30 501.99,464.95 502.35,466.60 502.79,468.25 503.33,469.90 503.97,471.55 504.72,473.20 505.58,474.85 506.56,476.50 507.64,478.15 508.82,479.80 510.10,481.45 511.46,483.10 512.88,484.75 514.35,486.40 515.84,488.05 517.33,489.70 518.80,491.35 520.20,493.00 521.53,494.65 522.74,496.30 523.82,497.95 524.74,499.60 525.48,501.25 526.01,502.90 526.34,504.55 526.45,506.20" stroke="#000" stroke-width="1.25"/>
<polyline points="508.49,460.00 508.62,461.65 508.80,463.30 509.32,464.95 510.00,466.60 510.79,468.25 511.66,469.90 512.59,471.55 513.56,473.20 514.56,474.85 515.57,476.50 516.57,478.15 517.53,479.80 518.43,481.45" stroke="#000" stroke-width="1.25"/>
<polyline points="481.37,527.65 482.11,529.30 482.96,530.95 483.90,532.60 484.89,534.25 485.93,535.90 486.98,537.55 488.02,539.20 489.03,540.85 489.99,542.50 490.89,544.15 491.70,545.80 492.40,547.45 492.93,549.10 493.17,550.75 493.41,552.40 493.63,554.05 493.84,555.70 494.02,557.35 494.18,559.00" stroke="#000" stroke-width="1.25"/>
<polyline points="476.15,506.20 476.27,507.85 476.62,509.50 477.18,511.15 477.95,512.80 478.90,514.45 480.03,516.10 481.31,517.75 482.71,519.40 484.20,521.05 485.76,522.70 487.35,524.35 488.96,526.00 490.54,527.65 492.09,529.30 493.57,530.95 494.97,532.60 496.28,534.25 497.48,535.90 498.56,537.55 499.53,539.20 500.38,540.85 501.12,542.50 501.75,544.15 502.29,545.80 502.75,547.45 503.17,549.10 503.60,550.75 504.00,552.40 504.36,554.05 504.69,555.70 504.98,557.35 505.23,559.00" stroke="#000" stroke-width="1.25"/>
<polyline points="485.07,479.80 484.17,481.45 483.35,483.10 482.63,484.75 482.03,486.40 481.59,488.05 481.30,489.70 481.20,491.35 481.29,493.00 481.59,494.65 482.10,496.30 482.82,497.95 483.74,499.60 484.87,501.25 486.17,502.90 487.65,504.55 489.27,506.20 491.00,507.85 492.83,509.50 494.72,511.15 496.63,512.80 498.54,514.45 500.42,516.10 502.23,517.75 503.95,519.40 505.56,521.05 507.03,522.70 508.34,524.35 509.49,526.00 510.47,527.65 511.28,529.30 511.91,530.95 512.38,532.60 512.68,534.25 512.85,535.90 512.88,537.55 512.81,539.20 512.65,540.85 512.42,542.50 512.16,544.15 511.89,545.80 511.65,547.45 511.54,549.10 511.73,550.75 511.89,552.40 512.03,554.05 512.15,555.70 512.26,557.35 512.35,559.00" stroke="#000" stroke-width="1.25"/>
<polyline points="494.11,460.00 494.16,461.65 494.21,463.30 493.97,464.95 493.65,466.60 493.30,468.25 492.97,469.90 492.69,471.55 492.46,473.20 492.32,474.85 492.28,476.50 492.37,478.15 492.60,479.80 492.97,481.45 493.51,483.10 494.21,484.75 495.09,486.40 496.13,488.05 497.34,489.70 498.70,491.35 500.20,493.00 501.82,494.65 503.54,496.30 505.34,497.95 507.18,499.60 509.04,501.25 510.89,502.90 512.69,504.55 514.41,506.20 516.03,507.85 517.51,509.50 518.84,511.15 519.99,512.80 520.94,514.45 521.69,516.10 522.22,517.75 522.55,519.40 522.66,521.05 522.57,522.70 522.29,524.35 521.84,526.00 521.23,527.65 520.49,529.30" stroke="#000" stroke-width="1.25"/>
</g>
<polygon points="490.00,460.00 489.95,461.65 489.86,463.30 489.41,464.95 488.80,466.60 488.10,468.25 487.32,469.90 486.50,471.55 485.64,473.20 484.76,474.85 483.86,476.50 482.96,478.15 482.06,479.80 481.17,481.45 480.30,483.10 479.45,484.75 478.63,486.40 477.86,488.05 477.12,489.70 476.44,491.35 475.81,493.00 475.24,494.65 474.73,496.30 474.28,497.95 473.91,499.60 473.61,501.25 473.38,502.90 473.23,504.55 473.15,506.20 473.14,507.85 473.22,509.50 473.36,511.15 473.58,512.80 473.87,514.45 474.23,516.10 474.66,517.75 475.15,519.40 475.69,521.05 476.29,522.70 476.94,524.35 477.62,526.00 478.35,527.65 479.11,529.30 479.89,530.95 480.68,532.60 481.49,534.25 482.29,535.90 483.09,537.55 483.88,539.20 484.63,540.85 485.35,542.50 486.01,544.15 486.60,545.80 487.09,547.45 487.39,549.10 487.34,550.75 487.29,552.40 487.25,554.05 487.20,555.70 487.15,557.35 487.10,559.00 515.50,559.00 515.45,557.35 515.40,555.70 515.36,554.05 515.31,552.40 515.26,550.75 515.21,549.10 515.51,547.45 516.00,545.80 516.59,544.15 517.25,542.50 517.97,540.85 518.72,539.20 519.51,537.55 520.31,535.90 521.11,534.25 521.92,532.60 522.71,530.95 523.49,529.30 524.25,527.65 524.98,526.00 525.66,524.35 526.31,522.70 526.91,521.05 527.45,519.40 527.94,517.75 528.37,516.10 528.73,514.45 529.02,512.80 529.24,511.15 529.38,509.50 529.46,507.85 529.45,506.20 529.37,504.55 529.22,502.90 528.99,501.25 528.69,499.60 528.32,497.95 527.87,496.30 527.36,494.65 526.79,493.00 526.16,491.35 525.48,489.70 524.74,488.05 523.97,486.40 523.15,484.75 522.30,483.10 521.43,481.45 520.54,479.80 519.64,478.15 518.74,476.50 517.84,474.85 516.96,473.20 516.10,471.55 515.28,469.90 514.50,468.25 513.80,466.60 513.19,464.95 512.74,463.30 512.65,461.65 512.60,460.00" fill="none" stroke="#000" stroke-width="2.2" stroke-linejoin="round"/>
<path d="M487,559.5 L516,559.5 C516.5,564 514,566 514,569 C514,572 516,573 515,575 L488,575 C487,573 489,572 489,569 C489,566 486.5,564 487,559.5 Z" fill="#fff" stroke="#000" stroke-width="1.7" stroke-linejoin="round"/>
<line x1="493.00" y1="568.50" x2="510.00" y2="568.50" stroke="#000" stroke-width="1.4" />
<path d="M494,577 H509 M494.5,579.5 H508.5" stroke="#000" stroke-width="1.6" fill="none"/>
<path fill-rule="evenodd" fill="#000" d="M402.09999999999997,808.5999999999999 a99.3,25.3 0 1 0 198.6,0 a99.3,25.3 0 1 0 -198.6,0 Z M403.59999999999997,808.0 a97.8,23.5 0 1 0 195.6,0 a97.8,23.5 0 1 0 -195.6,0 Z"/>
<rect x="491.5" y="780" width="20.5" height="10" fill="#fff"/>
<line x1="494.30" y1="576.00" x2="494.30" y2="1302.00" stroke="#000" stroke-width="2.2" />
<line x1="509.20" y1="576.00" x2="509.20" y2="1302.00" stroke="#000" stroke-width="2.2" />
<path d="M494.3,1068.2 Q501.7,1073 509.2,1068.2" fill="none" stroke="#000" stroke-width="1.8"/>
<path d="M494.3,805 Q501.7,812 509.2,805" fill="none" stroke="#000" stroke-width="1.8"/>
<clipPath id="tf"><rect x="400" y="815" width="205" height="25"/></clipPath>
<path fill-rule="evenodd" fill="#000" d="M402.09999999999997,808.5999999999999 a99.3,25.3 0 1 0 198.6,0 a99.3,25.3 0 1 0 -198.6,0 Z M403.59999999999997,808.0 a97.8,23.5 0 1 0 195.6,0 a97.8,23.5 0 1 0 -195.6,0 Z" clip-path="url(#tf)"/>
<g fill="none" stroke="#000" stroke-width="1.9" stroke-linejoin="round">
<path d="M428.4,1343.5 A72.9,19.5 0 0 1 574.2,1343.5 V1364.3 A72.9,15 0 0 1 428.4,1364.3 Z" fill="#fff"/>
<path d="M428.4,1343 A72.9,14.4 0 0 0 574.2,1343"/>
<path d="M428.4,1347.3 A72.9,14.4 0 0 0 574.2,1347.3"/>
<path d="M459,1329.5 C452,1333 455,1337.5 457,1339.5 A45.5,12.2 0 0 0 544,1339.5 C546.5,1337 549,1333 541,1328.5"/>
<path d="M487.2,1305.8 C486.5,1314 481,1320 474.6,1324.4 L474.6,1326 A26.4,7 0 0 0 527.4,1326 L527.4,1324.4 C521,1320 515.5,1314 516,1305.8 Z" fill="#fff"/>
<path d="M474.6,1325 A26.4,7.4 0 0 0 527.4,1325" stroke-width="3.2"/>
<path d="M490.8,1302 Q501.3,1299.5 511.8,1302 V1308 Q501.3,1311.5 490.8,1308 Z" fill="#fff" stroke-width="1.6"/>
<path d="M490.8,1302.5 Q501.3,1306 511.8,1302.5 M490.8,1305.3 Q501.3,1308.8 511.8,1305.3" stroke-width="1.3"/>
</g>
<path d="M541.5,1328 Q604,1312.6 672,1303.3" stroke="#000" stroke-width="3.7" fill="none"/>
<path d="M719,1297 C800,1286 880,1283.5 950,1284.3 C1040,1285.5 1130,1294 1197,1308.3" stroke="#000" stroke-width="3.7" fill="none"/>
<g transform="rotate(-2.5 695.5 1300)">
<path d="M671.2,1300 C671.2,1294 683,1290 695.2,1290 C707.5,1290 719.2,1294 719.2,1300 A24,9.6 0 0 1 671.2,1300 Z" fill="#fff" stroke="#000" stroke-width="2"/>
<path d="M685.8,1290 V1294.6 A9.3,3.2 0 0 0 704.4,1294.6 V1290" fill="#fff" stroke="#000" stroke-width="1.8"/>
<ellipse cx="695.1" cy="1290" rx="9.3" ry="3.3" fill="#fff" stroke="#000" stroke-width="1.8"/>
</g>
<g transform="translate(1230.7,1317.7) rotate(16.5)" stroke="#000" stroke-linejoin="round" stroke-linecap="round">
<path d="M19.4,-12 H39.5 M19.4,11.5 H39.5" stroke-width="6" fill="none"/>
<path d="M19.4,-22.4 L-4,-22.4 C-13,-22.4 -19.6,-15 -19.6,-6.5 L-31.5,-6.5 Q-34,-6.5 -34,-4 L-34,5 Q-34,7.5 -31.5,7.5 L-19.6,7.5 C-19.6,15 -13,22.4 -4,22.4 L19.4,22.4 Z" fill="#fff" stroke-width="3.8"/>
<circle cx="0" cy="0" r="4.8" fill="#000" stroke="none"/>
</g>
<line x1="287.00" y1="269.50" x2="472.00" y2="269.50" stroke="#222" stroke-width="1.15" />
<line x1="287.00" y1="515.50" x2="333.00" y2="515.50" stroke="#222" stroke-width="1.15" />
<line x1="298.50" y1="269.60" x2="298.50" y2="515.60" stroke="#222" stroke-width="1.15" />
<polygon points="298.00,269.60 303.50,298.60 292.50,298.60" fill="#000"/>
<polygon points="298.00,515.60 292.50,486.60 303.50,486.60" fill="#000"/>
<text transform="translate(280.94,448.95) rotate(-90) scale(0.3812,0.4563)" font-size="100" font-weight="bold" fill="#000" >340</text>
<text transform="translate(281.40,377.48) rotate(-90) scale(0.3548,0.4415)" font-size="100" font-weight="normal" fill="#000" >мм</text>
<line x1="504.00" y1="258.50" x2="717.00" y2="258.50" stroke="#222" stroke-width="1.15" />
<line x1="709.50" y1="258.30" x2="709.50" y2="1364.30" stroke="#222" stroke-width="1.15" />
<polygon points="709.30,258.30 714.80,287.30 703.80,287.30" fill="#000"/>
<polygon points="709.30,1364.30 703.80,1335.30 714.80,1335.30" fill="#000"/>
<text transform="translate(692.86,889.57) rotate(-90) scale(0.3617,0.4437)" font-size="100" font-weight="bold" fill="#000" >1665</text>
<text transform="translate(693.30,799.27) rotate(-90) scale(0.3532,0.4283)" font-size="100" font-weight="normal" fill="#000" >мм</text>
<line x1="266.70" y1="808.50" x2="494.00" y2="808.50" stroke="#222" stroke-width="1.15" />
<line x1="282.50" y1="808.30" x2="282.50" y2="1364.30" stroke="#222" stroke-width="1.15" />
<line x1="266.70" y1="1364.50" x2="428.40" y2="1364.50" stroke="#222" stroke-width="1.15" />
<line x1="574.20" y1="1364.50" x2="716.00" y2="1364.50" stroke="#222" stroke-width="1.15" />
<polygon points="282.50,808.30 288.00,837.30 277.00,837.30" fill="#000"/>
<polygon points="282.50,1364.30 277.00,1335.30 288.00,1335.30" fill="#000"/>
<text transform="translate(267.04,1123.83) rotate(-90) scale(0.3762,0.4620)" font-size="100" font-weight="bold" fill="#000" >820</text>
<text transform="translate(267.50,1053.22) rotate(-90) scale(0.3605,0.4434)" font-size="100" font-weight="normal" fill="#000" >мм</text>
<line x1="234.00" y1="768.50" x2="600.00" y2="768.50" stroke="#222" stroke-width="1.15" />
<line x1="403.50" y1="761.00" x2="403.50" y2="808.00" stroke="#222" stroke-width="1.15" />
<line x1="600.50" y1="761.00" x2="600.50" y2="808.00" stroke="#222" stroke-width="1.15" />
<polygon points="403.00,768.40 432.00,762.90 432.00,773.90" fill="#000"/>
<polygon points="600.00,768.40 571.00,773.90 571.00,762.90" fill="#000"/>
<circle cx="247.7" cy="742.4" r="11.95" fill="none" stroke="#000" stroke-width="2.7"/>
<line x1="237.00" y1="761.00" x2="259.00" y2="723.70" stroke="#000" stroke-width="2.7" />
<text transform="translate(270.82,755.47) scale(0.3519,0.4310)" font-size="100" font-weight="bold" fill="#000" >317</text>
<text transform="translate(337.18,755.70) scale(0.3597,0.4226)" font-size="100" font-weight="normal" fill="#000" >мм</text>
<line x1="299.00" y1="1308.50" x2="405.30" y2="1308.50" stroke="#222" stroke-width="1.15" />
<line x1="405.50" y1="1308.80" x2="405.50" y2="1406.50" stroke="#222" stroke-width="1.15" />
<line x1="398.20" y1="1344.50" x2="428.40" y2="1344.50" stroke="#222" stroke-width="1.15" />
<polygon points="405.50,1344.20 400.00,1318.20 411.00,1318.20" fill="#000"/>
<polygon points="405.50,1364.30 411.00,1398.80 400.00,1398.80" fill="#000"/>
<text transform="translate(305.07,1297.06) scale(0.3713,0.4437)" font-size="100" font-weight="bold" fill="#000" >30</text>
<text transform="translate(354.78,1297.30) scale(0.3605,0.4283)" font-size="100" font-weight="normal" fill="#000" >мм</text>
<line x1="427.50" y1="1365.00" x2="427.50" y2="1409.30" stroke="#222" stroke-width="1.15" />
<line x1="573.50" y1="1365.00" x2="573.50" y2="1409.30" stroke="#222" stroke-width="1.15" />
<line x1="427.80" y1="1402.50" x2="573.80" y2="1402.50" stroke="#222" stroke-width="1.15" />
<polygon points="427.80,1402.70 456.80,1397.20 456.80,1408.20" fill="#000"/>
<polygon points="573.80,1402.70 544.80,1408.20 544.80,1397.20" fill="#000"/>
<circle cx="435.7" cy="1438.7" r="12.15" fill="none" stroke="#000" stroke-width="2.7"/>
<line x1="425.30" y1="1456.70" x2="446.70" y2="1419.30" stroke="#000" stroke-width="2.7" />
<text transform="translate(458.68,1451.76) scale(0.3774,0.4394)" font-size="100" font-weight="bold" fill="#000" >260</text>
<text transform="translate(527.49,1452.00) scale(0.3581,0.4283)" font-size="100" font-weight="normal" fill="#000" >мм</text>
<line x1="540.50" y1="1178.00" x2="540.50" y2="1327.00" stroke="#222" stroke-width="1.15" />
<line x1="540.70" y1="1273.50" x2="671.50" y2="1273.50" stroke="#222" stroke-width="1.15" />
<line x1="671.50" y1="1260.80" x2="671.50" y2="1303.00" stroke="#222" stroke-width="1.15" />
<polygon points="540.70,1273.30 569.70,1267.80 569.70,1278.80" fill="#000"/>
<polygon points="671.50,1273.30 642.50,1278.80 642.50,1267.80" fill="#000"/>
<text transform="translate(549.38,1255.26) scale(0.3441,0.4394)" font-size="100" font-weight="bold" fill="#000" >410</text>
<text transform="translate(614.74,1255.50) scale(0.3661,0.4245)" font-size="100" font-weight="normal" fill="#000" >мм</text>
<line x1="540.70" y1="1184.50" x2="1196.70" y2="1184.50" stroke="#222" stroke-width="1.15" />
<line x1="1196.50" y1="1178.00" x2="1196.50" y2="1305.50" stroke="#222" stroke-width="1.15" />
<polygon points="540.70,1184.40 569.70,1178.90 569.70,1189.90" fill="#000"/>
<polygon points="1196.70,1184.40 1167.70,1189.90 1167.70,1178.90" fill="#000"/>
<text transform="translate(849.91,1164.70) scale(0.3979,0.4386)" font-size="100" font-weight="bold" fill="#000" >2</text>
<text transform="translate(879.45,1164.70) scale(0.3636,0.4283)" font-size="100" font-weight="normal" fill="#000" >м</text>
<rect x="296.7" y="570.7" width="92" height="80.6" rx="22" ry="22" fill="#fff" stroke="#222" stroke-width="1.35"/>
<text transform="translate(310.42,627.00) scale(0.3509,0.4449)" font-size="100" font-weight="bold" fill="#000" >E14</text>
<line x1="1088.70" y1="776.50" x2="1209.70" y2="776.50" stroke="#222" stroke-width="1.15" />
<line x1="1081.06" y1="804.50" x2="1185.85" y2="865.00" stroke="#222" stroke-width="1.15" />
<line x1="1060.20" y1="825.36" x2="1120.70" y2="930.15" stroke="#222" stroke-width="1.15" />
<line x1="1031.50" y1="833.00" x2="1031.50" y2="954.00" stroke="#222" stroke-width="1.15" />
<line x1="1003.20" y1="825.36" x2="942.70" y2="930.15" stroke="#222" stroke-width="1.15" />
<line x1="982.34" y1="804.50" x2="877.55" y2="865.00" stroke="#222" stroke-width="1.15" />
<line x1="974.70" y1="776.50" x2="853.70" y2="776.50" stroke="#222" stroke-width="1.15" />
<line x1="982.34" y1="747.50" x2="877.55" y2="687.00" stroke="#222" stroke-width="1.15" />
<line x1="1003.20" y1="726.64" x2="942.70" y2="621.85" stroke="#222" stroke-width="1.15" />
<line x1="1031.50" y1="719.00" x2="1031.50" y2="598.00" stroke="#222" stroke-width="1.15" />
<line x1="1060.20" y1="726.64" x2="1120.70" y2="621.85" stroke="#222" stroke-width="1.15" />
<line x1="1081.06" y1="747.50" x2="1185.85" y2="687.00" stroke="#222" stroke-width="1.15" />
<circle cx="1031.7" cy="776.0" r="177.3" fill="none" stroke="#000" stroke-width="2.7"/>
<circle cx="1031.7" cy="776.0" r="56" fill="none" stroke="#000" stroke-width="2.8"/>
<circle cx="1031.7" cy="776.0" r="34.2" fill="none" stroke="#000" stroke-width="2.7"/>
<circle cx="1031.7" cy="776.0" r="7.2" fill="none" stroke="#000" stroke-width="2.6"/>
<line x1="997.70" y1="601.28" x2="1084.30" y2="1045.70" stroke="#222" stroke-width="1.15" />
<line x1="1084.30" y1="1045.50" x2="1250.00" y2="1045.50" stroke="#222" stroke-width="1.15" />
<polygon points="997.70,601.28 1008.01,626.78 997.70,628.78" fill="#000"/>
<polygon points="1065.70,950.72 1055.39,925.22 1065.70,923.22" fill="#000"/>
<line x1="1049.08" y1="721.71" x2="965.00" y2="996.00" stroke="#222" stroke-width="1.15" />
<line x1="782.70" y1="996.50" x2="965.00" y2="996.50" stroke="#222" stroke-width="1.15" />
<polygon points="1049.08,721.71 1045.85,749.03 1035.85,745.83" fill="#000"/>
<polygon points="1014.32,830.29 1017.55,802.97 1027.55,806.17" fill="#000"/>
<circle cx="810" cy="968.3" r="12.05" fill="none" stroke="#000" stroke-width="2.7"/>
<line x1="798.30" y1="986.70" x2="821.70" y2="950.00" stroke="#000" stroke-width="2.7" />
<text transform="translate(832.65,982.07) scale(0.3865,0.4338)" font-size="100" font-weight="bold" fill="#000" >90</text>
<text transform="translate(882.46,982.30) scale(0.3629,0.4208)" font-size="100" font-weight="normal" fill="#000" >мм</text>
<circle cx="1111.7" cy="1018.3" r="12.05" fill="none" stroke="#000" stroke-width="2.7"/>
<line x1="1100.00" y1="1036.70" x2="1122.70" y2="1000.00" stroke="#000" stroke-width="2.7" />
<text transform="translate(1134.93,1031.57) scale(0.3555,0.4324)" font-size="100" font-weight="bold" fill="#000" >510</text>
<text transform="translate(1201.76,1031.70) scale(0.3629,0.4189)" font-size="100" font-weight="normal" fill="#000" >мм</text>
</svg>
</body></html>
